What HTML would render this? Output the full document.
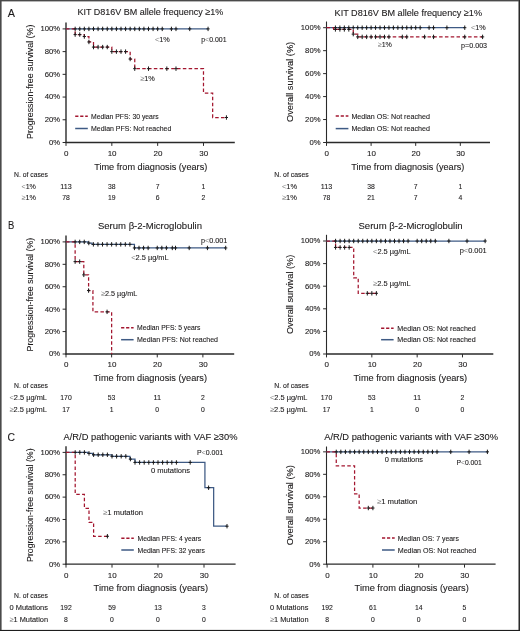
<!DOCTYPE html>
<html><head><meta charset="utf-8"><title>Kaplan-Meier curves</title>
<style>
html,body{margin:0;padding:0;background:#fff;}
body{width:520px;height:631px;overflow:hidden;position:relative;}
#fig{position:absolute;left:0;top:0;width:520px;height:631px;will-change:transform;}
text{font-family:"Liberation Sans",sans-serif;stroke:#1c1a1b;stroke-width:0.1px;}
</style></head>
<body>
<svg id="fig" width="520" height="631" viewBox="0 0 520 631">
<rect x="0" y="0" width="520" height="631" fill="#fff"/>
<text x="7.8" y="16.8" font-size="11.5" text-anchor="start" fill="#1c1a1b" textLength="7.2" lengthAdjust="spacingAndGlyphs">A</text>
<text x="8" y="228.8" font-size="11.5" text-anchor="start" fill="#1c1a1b" textLength="6.3" lengthAdjust="spacingAndGlyphs">B</text>
<text x="7.5" y="440.5" font-size="11.5" text-anchor="start" fill="#1c1a1b" textLength="7.5" lengthAdjust="spacingAndGlyphs">C</text>
<text x="77.4" y="15.4" font-size="9.6" text-anchor="start" fill="#1c1a1b" textLength="145.9" lengthAdjust="spacingAndGlyphs">KIT D816V BM allele frequency ≥1%</text>
<text x="334.6" y="15.5" font-size="9.6" text-anchor="start" fill="#1c1a1b" textLength="147.4" lengthAdjust="spacingAndGlyphs">KIT D816V BM allele frequency ≥1%</text>
<text x="97.9" y="228.6" font-size="9.6" text-anchor="start" fill="#1c1a1b" textLength="104.1" lengthAdjust="spacingAndGlyphs">Serum β-2-Microglobulin</text>
<text x="358.5" y="228.6" font-size="9.6" text-anchor="start" fill="#1c1a1b" textLength="104.1" lengthAdjust="spacingAndGlyphs">Serum β-2-Microglobulin</text>
<text x="63.5" y="439.8" font-size="9.6" text-anchor="start" fill="#1c1a1b" textLength="174" lengthAdjust="spacingAndGlyphs">A/R/D pathogenic variants with VAF ≥30%</text>
<text x="324.2" y="439.8" font-size="9.6" text-anchor="start" fill="#1c1a1b" textLength="173.8" lengthAdjust="spacingAndGlyphs">A/R/D pathogenic variants with VAF ≥30%</text>
<line x1="66" y1="22.6" x2="66" y2="143" stroke="#2a2a2a" stroke-width="1.4" stroke-linecap="butt"/>
<line x1="65.5" y1="142.5" x2="234.8" y2="142.5" stroke="#2a2a2a" stroke-width="1.3" stroke-linecap="butt"/>
<line x1="62.6" y1="142.5" x2="66" y2="142.5" stroke="#2a2a2a" stroke-width="1" stroke-linecap="butt"/>
<text x="60.1" y="144.85" font-size="7.7" text-anchor="end" fill="#1c1a1b">0%</text>
<line x1="62.6" y1="119.78" x2="66" y2="119.78" stroke="#2a2a2a" stroke-width="1" stroke-linecap="butt"/>
<text x="60.1" y="122.13" font-size="7.7" text-anchor="end" fill="#1c1a1b">20%</text>
<line x1="62.6" y1="97.06" x2="66" y2="97.06" stroke="#2a2a2a" stroke-width="1" stroke-linecap="butt"/>
<text x="60.1" y="99.41" font-size="7.7" text-anchor="end" fill="#1c1a1b">40%</text>
<line x1="62.6" y1="74.34" x2="66" y2="74.34" stroke="#2a2a2a" stroke-width="1" stroke-linecap="butt"/>
<text x="60.1" y="76.69" font-size="7.7" text-anchor="end" fill="#1c1a1b">60%</text>
<line x1="62.6" y1="51.62" x2="66" y2="51.62" stroke="#2a2a2a" stroke-width="1" stroke-linecap="butt"/>
<text x="60.1" y="53.97" font-size="7.7" text-anchor="end" fill="#1c1a1b">80%</text>
<line x1="62.6" y1="28.9" x2="66" y2="28.9" stroke="#2a2a2a" stroke-width="1" stroke-linecap="butt"/>
<text x="60.1" y="31.25" font-size="7.7" text-anchor="end" fill="#1c1a1b">100%</text>
<line x1="66" y1="142.5" x2="66" y2="145.9" stroke="#2a2a2a" stroke-width="1" stroke-linecap="butt"/>
<text x="66.3" y="155.8" font-size="8" text-anchor="middle" fill="#1c1a1b">0</text>
<line x1="111.83" y1="142.5" x2="111.83" y2="145.9" stroke="#2a2a2a" stroke-width="1" stroke-linecap="butt"/>
<text x="112.13" y="155.8" font-size="8" text-anchor="middle" fill="#1c1a1b">10</text>
<line x1="157.66" y1="142.5" x2="157.66" y2="145.9" stroke="#2a2a2a" stroke-width="1" stroke-linecap="butt"/>
<text x="157.96" y="155.8" font-size="8" text-anchor="middle" fill="#1c1a1b">20</text>
<line x1="203.49" y1="142.5" x2="203.49" y2="145.9" stroke="#2a2a2a" stroke-width="1" stroke-linecap="butt"/>
<text x="203.79" y="155.8" font-size="8" text-anchor="middle" fill="#1c1a1b">30</text>
<text x="94.2" y="170" font-size="9.3" text-anchor="start" fill="#1c1a1b" textLength="113.1" lengthAdjust="spacingAndGlyphs">Time from diagnosis (years)</text>
<text x="33.1" y="81.8" font-size="9.3" text-anchor="middle" fill="#1c1a1b" textLength="114.4" lengthAdjust="spacingAndGlyphs" transform="rotate(-90 33.1 81.8)">Progression-free survival (%)</text>
<line x1="326.5" y1="21.5" x2="326.5" y2="143" stroke="#2a2a2a" stroke-width="1.1" stroke-linecap="butt"/>
<line x1="326" y1="142.5" x2="490" y2="142.5" stroke="#2a2a2a" stroke-width="1.3" stroke-linecap="butt"/>
<line x1="323.1" y1="142.5" x2="326.5" y2="142.5" stroke="#2a2a2a" stroke-width="1" stroke-linecap="butt"/>
<text x="320.5" y="144.85" font-size="7.7" text-anchor="end" fill="#1c1a1b">0%</text>
<line x1="323.1" y1="119.54" x2="326.5" y2="119.54" stroke="#2a2a2a" stroke-width="1" stroke-linecap="butt"/>
<text x="320.5" y="121.89" font-size="7.7" text-anchor="end" fill="#1c1a1b">20%</text>
<line x1="323.1" y1="96.58" x2="326.5" y2="96.58" stroke="#2a2a2a" stroke-width="1" stroke-linecap="butt"/>
<text x="320.5" y="98.93" font-size="7.7" text-anchor="end" fill="#1c1a1b">40%</text>
<line x1="323.1" y1="73.62" x2="326.5" y2="73.62" stroke="#2a2a2a" stroke-width="1" stroke-linecap="butt"/>
<text x="320.5" y="75.97" font-size="7.7" text-anchor="end" fill="#1c1a1b">60%</text>
<line x1="323.1" y1="50.66" x2="326.5" y2="50.66" stroke="#2a2a2a" stroke-width="1" stroke-linecap="butt"/>
<text x="320.5" y="53.01" font-size="7.7" text-anchor="end" fill="#1c1a1b">80%</text>
<line x1="323.1" y1="27.7" x2="326.5" y2="27.7" stroke="#2a2a2a" stroke-width="1" stroke-linecap="butt"/>
<text x="320.5" y="30.05" font-size="7.7" text-anchor="end" fill="#1c1a1b">100%</text>
<line x1="326.5" y1="142.5" x2="326.5" y2="145.9" stroke="#2a2a2a" stroke-width="1" stroke-linecap="butt"/>
<text x="326.8" y="155.8" font-size="8" text-anchor="middle" fill="#1c1a1b">0</text>
<line x1="371.1" y1="142.5" x2="371.1" y2="145.9" stroke="#2a2a2a" stroke-width="1" stroke-linecap="butt"/>
<text x="371.4" y="155.8" font-size="8" text-anchor="middle" fill="#1c1a1b">10</text>
<line x1="415.7" y1="142.5" x2="415.7" y2="145.9" stroke="#2a2a2a" stroke-width="1" stroke-linecap="butt"/>
<text x="416" y="155.8" font-size="8" text-anchor="middle" fill="#1c1a1b">20</text>
<line x1="460.3" y1="142.5" x2="460.3" y2="145.9" stroke="#2a2a2a" stroke-width="1" stroke-linecap="butt"/>
<text x="460.6" y="155.8" font-size="8" text-anchor="middle" fill="#1c1a1b">30</text>
<text x="351.3" y="170" font-size="9.3" text-anchor="start" fill="#1c1a1b" textLength="113.1" lengthAdjust="spacingAndGlyphs">Time from diagnosis (years)</text>
<text x="293.5" y="81.9" font-size="9.3" text-anchor="middle" fill="#1c1a1b" textLength="80.2" lengthAdjust="spacingAndGlyphs" transform="rotate(-90 293.5 81.9)">Overall survival (%)</text>
<line x1="66" y1="235.5" x2="66" y2="354.5" stroke="#2a2a2a" stroke-width="1.4" stroke-linecap="butt"/>
<line x1="65.5" y1="354" x2="234.2" y2="354" stroke="#2a2a2a" stroke-width="1.4" stroke-linecap="butt"/>
<line x1="62.6" y1="354" x2="66" y2="354" stroke="#2a2a2a" stroke-width="1" stroke-linecap="butt"/>
<text x="60.1" y="356.35" font-size="7.7" text-anchor="end" fill="#1c1a1b">0%</text>
<line x1="62.6" y1="331.58" x2="66" y2="331.58" stroke="#2a2a2a" stroke-width="1" stroke-linecap="butt"/>
<text x="60.1" y="333.93" font-size="7.7" text-anchor="end" fill="#1c1a1b">20%</text>
<line x1="62.6" y1="309.16" x2="66" y2="309.16" stroke="#2a2a2a" stroke-width="1" stroke-linecap="butt"/>
<text x="60.1" y="311.51" font-size="7.7" text-anchor="end" fill="#1c1a1b">40%</text>
<line x1="62.6" y1="286.74" x2="66" y2="286.74" stroke="#2a2a2a" stroke-width="1" stroke-linecap="butt"/>
<text x="60.1" y="289.09" font-size="7.7" text-anchor="end" fill="#1c1a1b">60%</text>
<line x1="62.6" y1="264.32" x2="66" y2="264.32" stroke="#2a2a2a" stroke-width="1" stroke-linecap="butt"/>
<text x="60.1" y="266.67" font-size="7.7" text-anchor="end" fill="#1c1a1b">80%</text>
<line x1="62.6" y1="241.9" x2="66" y2="241.9" stroke="#2a2a2a" stroke-width="1" stroke-linecap="butt"/>
<text x="60.1" y="244.25" font-size="7.7" text-anchor="end" fill="#1c1a1b">100%</text>
<line x1="66" y1="354" x2="66" y2="357.4" stroke="#2a2a2a" stroke-width="1" stroke-linecap="butt"/>
<text x="66.3" y="367.3" font-size="8" text-anchor="middle" fill="#1c1a1b">0</text>
<line x1="111.63" y1="354" x2="111.63" y2="357.4" stroke="#2a2a2a" stroke-width="1" stroke-linecap="butt"/>
<text x="111.93" y="367.3" font-size="8" text-anchor="middle" fill="#1c1a1b">10</text>
<line x1="157.26" y1="354" x2="157.26" y2="357.4" stroke="#2a2a2a" stroke-width="1" stroke-linecap="butt"/>
<text x="157.56" y="367.3" font-size="8" text-anchor="middle" fill="#1c1a1b">20</text>
<line x1="202.89" y1="354" x2="202.89" y2="357.4" stroke="#2a2a2a" stroke-width="1" stroke-linecap="butt"/>
<text x="203.19" y="367.3" font-size="8" text-anchor="middle" fill="#1c1a1b">30</text>
<text x="93.6" y="381" font-size="9.3" text-anchor="start" fill="#1c1a1b" textLength="113.4" lengthAdjust="spacingAndGlyphs">Time from diagnosis (years)</text>
<text x="33.1" y="294.65" font-size="9.3" text-anchor="middle" fill="#1c1a1b" textLength="113.7" lengthAdjust="spacingAndGlyphs" transform="rotate(-90 33.1 294.65)">Progression-free survival (%)</text>
<line x1="326.5" y1="234.8" x2="326.5" y2="354.5" stroke="#2a2a2a" stroke-width="1.1" stroke-linecap="butt"/>
<line x1="326" y1="354" x2="493.3" y2="354" stroke="#2a2a2a" stroke-width="1.4" stroke-linecap="butt"/>
<line x1="323.1" y1="354" x2="326.5" y2="354" stroke="#2a2a2a" stroke-width="1" stroke-linecap="butt"/>
<text x="320.3" y="356.35" font-size="7.7" text-anchor="end" fill="#1c1a1b">0%</text>
<line x1="323.1" y1="331.4" x2="326.5" y2="331.4" stroke="#2a2a2a" stroke-width="1" stroke-linecap="butt"/>
<text x="320.3" y="333.75" font-size="7.7" text-anchor="end" fill="#1c1a1b">20%</text>
<line x1="323.1" y1="308.8" x2="326.5" y2="308.8" stroke="#2a2a2a" stroke-width="1" stroke-linecap="butt"/>
<text x="320.3" y="311.15" font-size="7.7" text-anchor="end" fill="#1c1a1b">40%</text>
<line x1="323.1" y1="286.2" x2="326.5" y2="286.2" stroke="#2a2a2a" stroke-width="1" stroke-linecap="butt"/>
<text x="320.3" y="288.55" font-size="7.7" text-anchor="end" fill="#1c1a1b">60%</text>
<line x1="323.1" y1="263.6" x2="326.5" y2="263.6" stroke="#2a2a2a" stroke-width="1" stroke-linecap="butt"/>
<text x="320.3" y="265.95" font-size="7.7" text-anchor="end" fill="#1c1a1b">80%</text>
<line x1="323.1" y1="241" x2="326.5" y2="241" stroke="#2a2a2a" stroke-width="1" stroke-linecap="butt"/>
<text x="320.3" y="243.35" font-size="7.7" text-anchor="end" fill="#1c1a1b">100%</text>
<line x1="326.5" y1="354" x2="326.5" y2="357.4" stroke="#2a2a2a" stroke-width="1" stroke-linecap="butt"/>
<text x="326.8" y="367.3" font-size="8" text-anchor="middle" fill="#1c1a1b">0</text>
<line x1="371.83" y1="354" x2="371.83" y2="357.4" stroke="#2a2a2a" stroke-width="1" stroke-linecap="butt"/>
<text x="372.13" y="367.3" font-size="8" text-anchor="middle" fill="#1c1a1b">10</text>
<line x1="417.16" y1="354" x2="417.16" y2="357.4" stroke="#2a2a2a" stroke-width="1" stroke-linecap="butt"/>
<text x="417.46" y="367.3" font-size="8" text-anchor="middle" fill="#1c1a1b">20</text>
<line x1="462.49" y1="354" x2="462.49" y2="357.4" stroke="#2a2a2a" stroke-width="1" stroke-linecap="butt"/>
<text x="462.79" y="367.3" font-size="8" text-anchor="middle" fill="#1c1a1b">30</text>
<text x="353.6" y="381" font-size="9.3" text-anchor="start" fill="#1c1a1b" textLength="113.5" lengthAdjust="spacingAndGlyphs">Time from diagnosis (years)</text>
<text x="293.5" y="294.4" font-size="9.3" text-anchor="middle" fill="#1c1a1b" textLength="79.4" lengthAdjust="spacingAndGlyphs" transform="rotate(-90 293.5 294.4)">Overall survival (%)</text>
<line x1="66" y1="446.3" x2="66" y2="564.7" stroke="#2a2a2a" stroke-width="1.4" stroke-linecap="butt"/>
<line x1="65.5" y1="564.2" x2="235.6" y2="564.2" stroke="#2a2a2a" stroke-width="1.3" stroke-linecap="butt"/>
<line x1="62.6" y1="564.2" x2="66" y2="564.2" stroke="#2a2a2a" stroke-width="1" stroke-linecap="butt"/>
<text x="60.1" y="566.55" font-size="7.7" text-anchor="end" fill="#1c1a1b">0%</text>
<line x1="62.6" y1="541.84" x2="66" y2="541.84" stroke="#2a2a2a" stroke-width="1" stroke-linecap="butt"/>
<text x="60.1" y="544.19" font-size="7.7" text-anchor="end" fill="#1c1a1b">20%</text>
<line x1="62.6" y1="519.48" x2="66" y2="519.48" stroke="#2a2a2a" stroke-width="1" stroke-linecap="butt"/>
<text x="60.1" y="521.83" font-size="7.7" text-anchor="end" fill="#1c1a1b">40%</text>
<line x1="62.6" y1="497.12" x2="66" y2="497.12" stroke="#2a2a2a" stroke-width="1" stroke-linecap="butt"/>
<text x="60.1" y="499.47" font-size="7.7" text-anchor="end" fill="#1c1a1b">60%</text>
<line x1="62.6" y1="474.76" x2="66" y2="474.76" stroke="#2a2a2a" stroke-width="1" stroke-linecap="butt"/>
<text x="60.1" y="477.11" font-size="7.7" text-anchor="end" fill="#1c1a1b">80%</text>
<line x1="62.6" y1="452.4" x2="66" y2="452.4" stroke="#2a2a2a" stroke-width="1" stroke-linecap="butt"/>
<text x="60.1" y="454.75" font-size="7.7" text-anchor="end" fill="#1c1a1b">100%</text>
<line x1="66" y1="564.2" x2="66" y2="567.6" stroke="#2a2a2a" stroke-width="1" stroke-linecap="butt"/>
<text x="66.3" y="577.5" font-size="8" text-anchor="middle" fill="#1c1a1b">0</text>
<line x1="112" y1="564.2" x2="112" y2="567.6" stroke="#2a2a2a" stroke-width="1" stroke-linecap="butt"/>
<text x="112.3" y="577.5" font-size="8" text-anchor="middle" fill="#1c1a1b">10</text>
<line x1="158" y1="564.2" x2="158" y2="567.6" stroke="#2a2a2a" stroke-width="1" stroke-linecap="butt"/>
<text x="158.3" y="577.5" font-size="8" text-anchor="middle" fill="#1c1a1b">20</text>
<line x1="204" y1="564.2" x2="204" y2="567.6" stroke="#2a2a2a" stroke-width="1" stroke-linecap="butt"/>
<text x="204.3" y="577.5" font-size="8" text-anchor="middle" fill="#1c1a1b">30</text>
<text x="93.6" y="591" font-size="9.3" text-anchor="start" fill="#1c1a1b" textLength="114.5" lengthAdjust="spacingAndGlyphs">Time from diagnosis (years)</text>
<text x="33.1" y="505.2" font-size="9.3" text-anchor="middle" fill="#1c1a1b" textLength="113.6" lengthAdjust="spacingAndGlyphs" transform="rotate(-90 33.1 505.2)">Progression-free survival (%)</text>
<line x1="326.5" y1="446.5" x2="326.5" y2="564.7" stroke="#2a2a2a" stroke-width="1.1" stroke-linecap="butt"/>
<line x1="326" y1="564.2" x2="495.6" y2="564.2" stroke="#2a2a2a" stroke-width="1.3" stroke-linecap="butt"/>
<line x1="323.1" y1="564.2" x2="326.5" y2="564.2" stroke="#2a2a2a" stroke-width="1" stroke-linecap="butt"/>
<text x="320.3" y="566.55" font-size="7.7" text-anchor="end" fill="#1c1a1b">0%</text>
<line x1="323.1" y1="541.73" x2="326.5" y2="541.73" stroke="#2a2a2a" stroke-width="1" stroke-linecap="butt"/>
<text x="320.3" y="544.08" font-size="7.7" text-anchor="end" fill="#1c1a1b">20%</text>
<line x1="323.1" y1="519.26" x2="326.5" y2="519.26" stroke="#2a2a2a" stroke-width="1" stroke-linecap="butt"/>
<text x="320.3" y="521.61" font-size="7.7" text-anchor="end" fill="#1c1a1b">40%</text>
<line x1="323.1" y1="496.79" x2="326.5" y2="496.79" stroke="#2a2a2a" stroke-width="1" stroke-linecap="butt"/>
<text x="320.3" y="499.14" font-size="7.7" text-anchor="end" fill="#1c1a1b">60%</text>
<line x1="323.1" y1="474.32" x2="326.5" y2="474.32" stroke="#2a2a2a" stroke-width="1" stroke-linecap="butt"/>
<text x="320.3" y="476.67" font-size="7.7" text-anchor="end" fill="#1c1a1b">80%</text>
<line x1="323.1" y1="451.85" x2="326.5" y2="451.85" stroke="#2a2a2a" stroke-width="1" stroke-linecap="butt"/>
<text x="320.3" y="454.2" font-size="7.7" text-anchor="end" fill="#1c1a1b">100%</text>
<line x1="327.1" y1="564.2" x2="327.1" y2="567.6" stroke="#2a2a2a" stroke-width="1" stroke-linecap="butt"/>
<text x="327.4" y="577.5" font-size="8" text-anchor="middle" fill="#1c1a1b">0</text>
<line x1="372.9" y1="564.2" x2="372.9" y2="567.6" stroke="#2a2a2a" stroke-width="1" stroke-linecap="butt"/>
<text x="373.2" y="577.5" font-size="8" text-anchor="middle" fill="#1c1a1b">10</text>
<line x1="418.7" y1="564.2" x2="418.7" y2="567.6" stroke="#2a2a2a" stroke-width="1" stroke-linecap="butt"/>
<text x="419" y="577.5" font-size="8" text-anchor="middle" fill="#1c1a1b">20</text>
<line x1="464.5" y1="564.2" x2="464.5" y2="567.6" stroke="#2a2a2a" stroke-width="1" stroke-linecap="butt"/>
<text x="464.8" y="577.5" font-size="8" text-anchor="middle" fill="#1c1a1b">30</text>
<text x="354.6" y="591" font-size="9.3" text-anchor="start" fill="#1c1a1b" textLength="114.2" lengthAdjust="spacingAndGlyphs">Time from diagnosis (years)</text>
<text x="293.5" y="505.2" font-size="9.3" text-anchor="middle" fill="#1c1a1b" textLength="80" lengthAdjust="spacingAndGlyphs" transform="rotate(-90 293.5 505.2)">Overall survival (%)</text>
<path d="M66 28.9 H208.07" fill="none" stroke="#3e5a84" stroke-width="1.25"/>
<path d="M66 28.9 H75.17 V34.58 H84.33 V36.51 H88.91 V41.96 H93.5 V47.08 H111.83 V51.62 H130.16 V59 H134.75 V68.66 H203.49 V93.08 H212.66 V117.51 H226.41" fill="none" stroke="#a3162f" stroke-width="1.25" stroke-dasharray="3.5 2.3"/>
<line x1="75.17" y1="26.7" x2="75.17" y2="31.1" stroke="#1a1a1a" stroke-width="1" stroke-linecap="butt"/>
<line x1="73.57" y1="28.9" x2="76.77" y2="28.9" stroke="#1a1a1a" stroke-width="1" stroke-linecap="butt"/>
<line x1="79.75" y1="26.7" x2="79.75" y2="31.1" stroke="#1a1a1a" stroke-width="1" stroke-linecap="butt"/>
<line x1="78.15" y1="28.9" x2="81.35" y2="28.9" stroke="#1a1a1a" stroke-width="1" stroke-linecap="butt"/>
<line x1="84.33" y1="26.7" x2="84.33" y2="31.1" stroke="#1a1a1a" stroke-width="1" stroke-linecap="butt"/>
<line x1="82.73" y1="28.9" x2="85.93" y2="28.9" stroke="#1a1a1a" stroke-width="1" stroke-linecap="butt"/>
<line x1="88.91" y1="26.7" x2="88.91" y2="31.1" stroke="#1a1a1a" stroke-width="1" stroke-linecap="butt"/>
<line x1="87.31" y1="28.9" x2="90.51" y2="28.9" stroke="#1a1a1a" stroke-width="1" stroke-linecap="butt"/>
<line x1="93.5" y1="26.7" x2="93.5" y2="31.1" stroke="#1a1a1a" stroke-width="1" stroke-linecap="butt"/>
<line x1="91.9" y1="28.9" x2="95.1" y2="28.9" stroke="#1a1a1a" stroke-width="1" stroke-linecap="butt"/>
<line x1="98.08" y1="26.7" x2="98.08" y2="31.1" stroke="#1a1a1a" stroke-width="1" stroke-linecap="butt"/>
<line x1="96.48" y1="28.9" x2="99.68" y2="28.9" stroke="#1a1a1a" stroke-width="1" stroke-linecap="butt"/>
<line x1="102.66" y1="26.7" x2="102.66" y2="31.1" stroke="#1a1a1a" stroke-width="1" stroke-linecap="butt"/>
<line x1="101.06" y1="28.9" x2="104.26" y2="28.9" stroke="#1a1a1a" stroke-width="1" stroke-linecap="butt"/>
<line x1="107.25" y1="26.7" x2="107.25" y2="31.1" stroke="#1a1a1a" stroke-width="1" stroke-linecap="butt"/>
<line x1="105.65" y1="28.9" x2="108.85" y2="28.9" stroke="#1a1a1a" stroke-width="1" stroke-linecap="butt"/>
<line x1="111.83" y1="26.7" x2="111.83" y2="31.1" stroke="#1a1a1a" stroke-width="1" stroke-linecap="butt"/>
<line x1="110.23" y1="28.9" x2="113.43" y2="28.9" stroke="#1a1a1a" stroke-width="1" stroke-linecap="butt"/>
<line x1="116.41" y1="26.7" x2="116.41" y2="31.1" stroke="#1a1a1a" stroke-width="1" stroke-linecap="butt"/>
<line x1="114.81" y1="28.9" x2="118.01" y2="28.9" stroke="#1a1a1a" stroke-width="1" stroke-linecap="butt"/>
<line x1="121" y1="26.7" x2="121" y2="31.1" stroke="#1a1a1a" stroke-width="1" stroke-linecap="butt"/>
<line x1="119.4" y1="28.9" x2="122.6" y2="28.9" stroke="#1a1a1a" stroke-width="1" stroke-linecap="butt"/>
<line x1="125.58" y1="26.7" x2="125.58" y2="31.1" stroke="#1a1a1a" stroke-width="1" stroke-linecap="butt"/>
<line x1="123.98" y1="28.9" x2="127.18" y2="28.9" stroke="#1a1a1a" stroke-width="1" stroke-linecap="butt"/>
<line x1="130.16" y1="26.7" x2="130.16" y2="31.1" stroke="#1a1a1a" stroke-width="1" stroke-linecap="butt"/>
<line x1="128.56" y1="28.9" x2="131.76" y2="28.9" stroke="#1a1a1a" stroke-width="1" stroke-linecap="butt"/>
<line x1="134.75" y1="26.7" x2="134.75" y2="31.1" stroke="#1a1a1a" stroke-width="1" stroke-linecap="butt"/>
<line x1="133.15" y1="28.9" x2="136.34" y2="28.9" stroke="#1a1a1a" stroke-width="1" stroke-linecap="butt"/>
<line x1="139.33" y1="26.7" x2="139.33" y2="31.1" stroke="#1a1a1a" stroke-width="1" stroke-linecap="butt"/>
<line x1="137.73" y1="28.9" x2="140.93" y2="28.9" stroke="#1a1a1a" stroke-width="1" stroke-linecap="butt"/>
<line x1="143.91" y1="26.7" x2="143.91" y2="31.1" stroke="#1a1a1a" stroke-width="1" stroke-linecap="butt"/>
<line x1="142.31" y1="28.9" x2="145.51" y2="28.9" stroke="#1a1a1a" stroke-width="1" stroke-linecap="butt"/>
<line x1="148.49" y1="26.7" x2="148.49" y2="31.1" stroke="#1a1a1a" stroke-width="1" stroke-linecap="butt"/>
<line x1="146.89" y1="28.9" x2="150.09" y2="28.9" stroke="#1a1a1a" stroke-width="1" stroke-linecap="butt"/>
<line x1="153.08" y1="26.7" x2="153.08" y2="31.1" stroke="#1a1a1a" stroke-width="1" stroke-linecap="butt"/>
<line x1="151.48" y1="28.9" x2="154.68" y2="28.9" stroke="#1a1a1a" stroke-width="1" stroke-linecap="butt"/>
<line x1="157.66" y1="26.7" x2="157.66" y2="31.1" stroke="#1a1a1a" stroke-width="1" stroke-linecap="butt"/>
<line x1="156.06" y1="28.9" x2="159.26" y2="28.9" stroke="#1a1a1a" stroke-width="1" stroke-linecap="butt"/>
<line x1="162.24" y1="26.7" x2="162.24" y2="31.1" stroke="#1a1a1a" stroke-width="1" stroke-linecap="butt"/>
<line x1="160.64" y1="28.9" x2="163.84" y2="28.9" stroke="#1a1a1a" stroke-width="1" stroke-linecap="butt"/>
<line x1="171.41" y1="26.7" x2="171.41" y2="31.1" stroke="#1a1a1a" stroke-width="1" stroke-linecap="butt"/>
<line x1="169.81" y1="28.9" x2="173.01" y2="28.9" stroke="#1a1a1a" stroke-width="1" stroke-linecap="butt"/>
<line x1="175.99" y1="26.7" x2="175.99" y2="31.1" stroke="#1a1a1a" stroke-width="1" stroke-linecap="butt"/>
<line x1="174.39" y1="28.9" x2="177.59" y2="28.9" stroke="#1a1a1a" stroke-width="1" stroke-linecap="butt"/>
<line x1="189.74" y1="26.7" x2="189.74" y2="31.1" stroke="#1a1a1a" stroke-width="1" stroke-linecap="butt"/>
<line x1="188.14" y1="28.9" x2="191.34" y2="28.9" stroke="#1a1a1a" stroke-width="1" stroke-linecap="butt"/>
<line x1="208.07" y1="26.7" x2="208.07" y2="31.1" stroke="#1a1a1a" stroke-width="1" stroke-linecap="butt"/>
<line x1="206.47" y1="28.9" x2="209.67" y2="28.9" stroke="#1a1a1a" stroke-width="1" stroke-linecap="butt"/>
<line x1="75.17" y1="32.38" x2="75.17" y2="36.78" stroke="#1a1a1a" stroke-width="1" stroke-linecap="butt"/>
<line x1="73.57" y1="34.58" x2="76.77" y2="34.58" stroke="#1a1a1a" stroke-width="1" stroke-linecap="butt"/>
<line x1="79.75" y1="32.38" x2="79.75" y2="36.78" stroke="#1a1a1a" stroke-width="1" stroke-linecap="butt"/>
<line x1="78.15" y1="34.58" x2="81.35" y2="34.58" stroke="#1a1a1a" stroke-width="1" stroke-linecap="butt"/>
<line x1="84.33" y1="34.31" x2="84.33" y2="38.71" stroke="#1a1a1a" stroke-width="1" stroke-linecap="butt"/>
<line x1="82.73" y1="36.51" x2="85.93" y2="36.51" stroke="#1a1a1a" stroke-width="1" stroke-linecap="butt"/>
<line x1="88.91" y1="39.76" x2="88.91" y2="44.16" stroke="#1a1a1a" stroke-width="1" stroke-linecap="butt"/>
<line x1="87.31" y1="41.96" x2="90.51" y2="41.96" stroke="#1a1a1a" stroke-width="1" stroke-linecap="butt"/>
<line x1="93.5" y1="44.88" x2="93.5" y2="49.28" stroke="#1a1a1a" stroke-width="1" stroke-linecap="butt"/>
<line x1="91.9" y1="47.08" x2="95.1" y2="47.08" stroke="#1a1a1a" stroke-width="1" stroke-linecap="butt"/>
<line x1="98.08" y1="44.88" x2="98.08" y2="49.28" stroke="#1a1a1a" stroke-width="1" stroke-linecap="butt"/>
<line x1="96.48" y1="47.08" x2="99.68" y2="47.08" stroke="#1a1a1a" stroke-width="1" stroke-linecap="butt"/>
<line x1="102.66" y1="44.88" x2="102.66" y2="49.28" stroke="#1a1a1a" stroke-width="1" stroke-linecap="butt"/>
<line x1="101.06" y1="47.08" x2="104.26" y2="47.08" stroke="#1a1a1a" stroke-width="1" stroke-linecap="butt"/>
<line x1="107.25" y1="44.88" x2="107.25" y2="49.28" stroke="#1a1a1a" stroke-width="1" stroke-linecap="butt"/>
<line x1="105.65" y1="47.08" x2="108.85" y2="47.08" stroke="#1a1a1a" stroke-width="1" stroke-linecap="butt"/>
<line x1="111.83" y1="49.42" x2="111.83" y2="53.82" stroke="#1a1a1a" stroke-width="1" stroke-linecap="butt"/>
<line x1="110.23" y1="51.62" x2="113.43" y2="51.62" stroke="#1a1a1a" stroke-width="1" stroke-linecap="butt"/>
<line x1="116.41" y1="49.42" x2="116.41" y2="53.82" stroke="#1a1a1a" stroke-width="1" stroke-linecap="butt"/>
<line x1="114.81" y1="51.62" x2="118.01" y2="51.62" stroke="#1a1a1a" stroke-width="1" stroke-linecap="butt"/>
<line x1="121" y1="49.42" x2="121" y2="53.82" stroke="#1a1a1a" stroke-width="1" stroke-linecap="butt"/>
<line x1="119.4" y1="51.62" x2="122.6" y2="51.62" stroke="#1a1a1a" stroke-width="1" stroke-linecap="butt"/>
<line x1="125.58" y1="49.42" x2="125.58" y2="53.82" stroke="#1a1a1a" stroke-width="1" stroke-linecap="butt"/>
<line x1="123.98" y1="51.62" x2="127.18" y2="51.62" stroke="#1a1a1a" stroke-width="1" stroke-linecap="butt"/>
<line x1="130.16" y1="56.8" x2="130.16" y2="61.2" stroke="#1a1a1a" stroke-width="1" stroke-linecap="butt"/>
<line x1="128.56" y1="59" x2="131.76" y2="59" stroke="#1a1a1a" stroke-width="1" stroke-linecap="butt"/>
<line x1="134.75" y1="66.46" x2="134.75" y2="70.86" stroke="#1a1a1a" stroke-width="1" stroke-linecap="butt"/>
<line x1="133.15" y1="68.66" x2="136.34" y2="68.66" stroke="#1a1a1a" stroke-width="1" stroke-linecap="butt"/>
<line x1="148.49" y1="66.46" x2="148.49" y2="70.86" stroke="#1a1a1a" stroke-width="1" stroke-linecap="butt"/>
<line x1="146.89" y1="68.66" x2="150.09" y2="68.66" stroke="#1a1a1a" stroke-width="1" stroke-linecap="butt"/>
<line x1="166.83" y1="66.46" x2="166.83" y2="70.86" stroke="#1a1a1a" stroke-width="1" stroke-linecap="butt"/>
<line x1="165.23" y1="68.66" x2="168.43" y2="68.66" stroke="#1a1a1a" stroke-width="1" stroke-linecap="butt"/>
<line x1="175.99" y1="66.46" x2="175.99" y2="70.86" stroke="#1a1a1a" stroke-width="1" stroke-linecap="butt"/>
<line x1="174.39" y1="68.66" x2="177.59" y2="68.66" stroke="#1a1a1a" stroke-width="1" stroke-linecap="butt"/>
<line x1="226.41" y1="115.31" x2="226.41" y2="119.71" stroke="#1a1a1a" stroke-width="1" stroke-linecap="butt"/>
<line x1="224.81" y1="117.51" x2="228" y2="117.51" stroke="#1a1a1a" stroke-width="1" stroke-linecap="butt"/>
<text x="155" y="41.9" font-size="7.4" text-anchor="start" fill="#1c1a1b" textLength="14.8" lengthAdjust="spacingAndGlyphs"><tspan fill="#808080" stroke="none">&lt;</tspan>1%</text>
<text x="201.2" y="41.9" font-size="7.4" text-anchor="start" fill="#1c1a1b" textLength="25.3" lengthAdjust="spacingAndGlyphs">p<tspan fill="#808080" stroke="none">&lt;</tspan>0.001</text>
<text x="140.2" y="81" font-size="7.4" text-anchor="start" fill="#1c1a1b" textLength="14.6" lengthAdjust="spacingAndGlyphs"><tspan fill="#808080" stroke="none">≥</tspan>1%</text>
<line x1="75.2" y1="116.2" x2="87.8" y2="116.2" stroke="#a3162f" stroke-width="1.5" stroke-linecap="butt" stroke-dasharray="3.2 1.8"/>
<line x1="75.2" y1="128.5" x2="87.8" y2="128.5" stroke="#3e5a84" stroke-width="1.5" stroke-linecap="butt"/>
<text x="91" y="118.9" font-size="7.2" text-anchor="start" fill="#1c1a1b" textLength="67.6" lengthAdjust="spacingAndGlyphs">Median PFS: 30 years</text>
<text x="91" y="131.2" font-size="7.2" text-anchor="start" fill="#1c1a1b" textLength="80.3" lengthAdjust="spacingAndGlyphs">Median PFS: Not reached</text>
<text x="14.1" y="176.7" font-size="6.8" text-anchor="start" fill="#1c1a1b" textLength="33.9" lengthAdjust="spacingAndGlyphs">N. of cases</text>
<text x="21.5" y="189" font-size="7.4" text-anchor="start" fill="#1c1a1b" textLength="14.4" lengthAdjust="spacingAndGlyphs"><tspan fill="#808080" stroke="none">&lt;</tspan>1%</text>
<text x="66" y="189" font-size="7.4" text-anchor="middle" fill="#1c1a1b" textLength="11.4" lengthAdjust="spacingAndGlyphs">113</text>
<text x="111.83" y="189" font-size="7.4" text-anchor="middle" fill="#1c1a1b" textLength="7.6" lengthAdjust="spacingAndGlyphs">38</text>
<text x="157.66" y="189" font-size="7.4" text-anchor="middle" fill="#1c1a1b" textLength="3.8" lengthAdjust="spacingAndGlyphs">7</text>
<text x="203.49" y="189" font-size="7.4" text-anchor="middle" fill="#1c1a1b" textLength="3.8" lengthAdjust="spacingAndGlyphs">1</text>
<text x="21.5" y="200.3" font-size="7.4" text-anchor="start" fill="#1c1a1b" textLength="14.4" lengthAdjust="spacingAndGlyphs"><tspan fill="#808080" stroke="none">≥</tspan>1%</text>
<text x="66" y="200.3" font-size="7.4" text-anchor="middle" fill="#1c1a1b" textLength="7.6" lengthAdjust="spacingAndGlyphs">78</text>
<text x="111.83" y="200.3" font-size="7.4" text-anchor="middle" fill="#1c1a1b" textLength="7.6" lengthAdjust="spacingAndGlyphs">19</text>
<text x="157.66" y="200.3" font-size="7.4" text-anchor="middle" fill="#1c1a1b" textLength="3.8" lengthAdjust="spacingAndGlyphs">6</text>
<text x="203.49" y="200.3" font-size="7.4" text-anchor="middle" fill="#1c1a1b" textLength="3.8" lengthAdjust="spacingAndGlyphs">2</text>
<path d="M326.5 27.7 H464.76" fill="none" stroke="#3e5a84" stroke-width="1.25"/>
<path d="M326.5 27.7 H333.64 V29.42 H353.26 V34.13 H357.72 V36.88 H482.6" fill="none" stroke="#a3162f" stroke-width="1.25" stroke-dasharray="3.5 2.3"/>
<line x1="335.42" y1="25.5" x2="335.42" y2="29.9" stroke="#1a1a1a" stroke-width="1" stroke-linecap="butt"/>
<line x1="333.82" y1="27.7" x2="337.02" y2="27.7" stroke="#1a1a1a" stroke-width="1" stroke-linecap="butt"/>
<line x1="339.88" y1="25.5" x2="339.88" y2="29.9" stroke="#1a1a1a" stroke-width="1" stroke-linecap="butt"/>
<line x1="338.28" y1="27.7" x2="341.48" y2="27.7" stroke="#1a1a1a" stroke-width="1" stroke-linecap="butt"/>
<line x1="344.34" y1="25.5" x2="344.34" y2="29.9" stroke="#1a1a1a" stroke-width="1" stroke-linecap="butt"/>
<line x1="342.74" y1="27.7" x2="345.94" y2="27.7" stroke="#1a1a1a" stroke-width="1" stroke-linecap="butt"/>
<line x1="348.8" y1="25.5" x2="348.8" y2="29.9" stroke="#1a1a1a" stroke-width="1" stroke-linecap="butt"/>
<line x1="347.2" y1="27.7" x2="350.4" y2="27.7" stroke="#1a1a1a" stroke-width="1" stroke-linecap="butt"/>
<line x1="353.26" y1="25.5" x2="353.26" y2="29.9" stroke="#1a1a1a" stroke-width="1" stroke-linecap="butt"/>
<line x1="351.66" y1="27.7" x2="354.86" y2="27.7" stroke="#1a1a1a" stroke-width="1" stroke-linecap="butt"/>
<line x1="357.72" y1="25.5" x2="357.72" y2="29.9" stroke="#1a1a1a" stroke-width="1" stroke-linecap="butt"/>
<line x1="356.12" y1="27.7" x2="359.32" y2="27.7" stroke="#1a1a1a" stroke-width="1" stroke-linecap="butt"/>
<line x1="362.18" y1="25.5" x2="362.18" y2="29.9" stroke="#1a1a1a" stroke-width="1" stroke-linecap="butt"/>
<line x1="360.58" y1="27.7" x2="363.78" y2="27.7" stroke="#1a1a1a" stroke-width="1" stroke-linecap="butt"/>
<line x1="366.64" y1="25.5" x2="366.64" y2="29.9" stroke="#1a1a1a" stroke-width="1" stroke-linecap="butt"/>
<line x1="365.04" y1="27.7" x2="368.24" y2="27.7" stroke="#1a1a1a" stroke-width="1" stroke-linecap="butt"/>
<line x1="371.1" y1="25.5" x2="371.1" y2="29.9" stroke="#1a1a1a" stroke-width="1" stroke-linecap="butt"/>
<line x1="369.5" y1="27.7" x2="372.7" y2="27.7" stroke="#1a1a1a" stroke-width="1" stroke-linecap="butt"/>
<line x1="375.56" y1="25.5" x2="375.56" y2="29.9" stroke="#1a1a1a" stroke-width="1" stroke-linecap="butt"/>
<line x1="373.96" y1="27.7" x2="377.16" y2="27.7" stroke="#1a1a1a" stroke-width="1" stroke-linecap="butt"/>
<line x1="380.02" y1="25.5" x2="380.02" y2="29.9" stroke="#1a1a1a" stroke-width="1" stroke-linecap="butt"/>
<line x1="378.42" y1="27.7" x2="381.62" y2="27.7" stroke="#1a1a1a" stroke-width="1" stroke-linecap="butt"/>
<line x1="384.48" y1="25.5" x2="384.48" y2="29.9" stroke="#1a1a1a" stroke-width="1" stroke-linecap="butt"/>
<line x1="382.88" y1="27.7" x2="386.08" y2="27.7" stroke="#1a1a1a" stroke-width="1" stroke-linecap="butt"/>
<line x1="388.94" y1="25.5" x2="388.94" y2="29.9" stroke="#1a1a1a" stroke-width="1" stroke-linecap="butt"/>
<line x1="387.34" y1="27.7" x2="390.54" y2="27.7" stroke="#1a1a1a" stroke-width="1" stroke-linecap="butt"/>
<line x1="393.4" y1="25.5" x2="393.4" y2="29.9" stroke="#1a1a1a" stroke-width="1" stroke-linecap="butt"/>
<line x1="391.8" y1="27.7" x2="395" y2="27.7" stroke="#1a1a1a" stroke-width="1" stroke-linecap="butt"/>
<line x1="397.86" y1="25.5" x2="397.86" y2="29.9" stroke="#1a1a1a" stroke-width="1" stroke-linecap="butt"/>
<line x1="396.26" y1="27.7" x2="399.46" y2="27.7" stroke="#1a1a1a" stroke-width="1" stroke-linecap="butt"/>
<line x1="402.32" y1="25.5" x2="402.32" y2="29.9" stroke="#1a1a1a" stroke-width="1" stroke-linecap="butt"/>
<line x1="400.72" y1="27.7" x2="403.92" y2="27.7" stroke="#1a1a1a" stroke-width="1" stroke-linecap="butt"/>
<line x1="406.78" y1="25.5" x2="406.78" y2="29.9" stroke="#1a1a1a" stroke-width="1" stroke-linecap="butt"/>
<line x1="405.18" y1="27.7" x2="408.38" y2="27.7" stroke="#1a1a1a" stroke-width="1" stroke-linecap="butt"/>
<line x1="411.24" y1="25.5" x2="411.24" y2="29.9" stroke="#1a1a1a" stroke-width="1" stroke-linecap="butt"/>
<line x1="409.64" y1="27.7" x2="412.84" y2="27.7" stroke="#1a1a1a" stroke-width="1" stroke-linecap="butt"/>
<line x1="415.7" y1="25.5" x2="415.7" y2="29.9" stroke="#1a1a1a" stroke-width="1" stroke-linecap="butt"/>
<line x1="414.1" y1="27.7" x2="417.3" y2="27.7" stroke="#1a1a1a" stroke-width="1" stroke-linecap="butt"/>
<line x1="420.16" y1="25.5" x2="420.16" y2="29.9" stroke="#1a1a1a" stroke-width="1" stroke-linecap="butt"/>
<line x1="418.56" y1="27.7" x2="421.76" y2="27.7" stroke="#1a1a1a" stroke-width="1" stroke-linecap="butt"/>
<line x1="429.08" y1="25.5" x2="429.08" y2="29.9" stroke="#1a1a1a" stroke-width="1" stroke-linecap="butt"/>
<line x1="427.48" y1="27.7" x2="430.68" y2="27.7" stroke="#1a1a1a" stroke-width="1" stroke-linecap="butt"/>
<line x1="433.54" y1="25.5" x2="433.54" y2="29.9" stroke="#1a1a1a" stroke-width="1" stroke-linecap="butt"/>
<line x1="431.94" y1="27.7" x2="435.14" y2="27.7" stroke="#1a1a1a" stroke-width="1" stroke-linecap="butt"/>
<line x1="446.92" y1="25.5" x2="446.92" y2="29.9" stroke="#1a1a1a" stroke-width="1" stroke-linecap="butt"/>
<line x1="445.32" y1="27.7" x2="448.52" y2="27.7" stroke="#1a1a1a" stroke-width="1" stroke-linecap="butt"/>
<line x1="464.76" y1="25.5" x2="464.76" y2="29.9" stroke="#1a1a1a" stroke-width="1" stroke-linecap="butt"/>
<line x1="463.16" y1="27.7" x2="466.36" y2="27.7" stroke="#1a1a1a" stroke-width="1" stroke-linecap="butt"/>
<line x1="335.42" y1="27.22" x2="335.42" y2="31.62" stroke="#1a1a1a" stroke-width="1" stroke-linecap="butt"/>
<line x1="333.82" y1="29.42" x2="337.02" y2="29.42" stroke="#1a1a1a" stroke-width="1" stroke-linecap="butt"/>
<line x1="339.88" y1="27.22" x2="339.88" y2="31.62" stroke="#1a1a1a" stroke-width="1" stroke-linecap="butt"/>
<line x1="338.28" y1="29.42" x2="341.48" y2="29.42" stroke="#1a1a1a" stroke-width="1" stroke-linecap="butt"/>
<line x1="344.34" y1="27.22" x2="344.34" y2="31.62" stroke="#1a1a1a" stroke-width="1" stroke-linecap="butt"/>
<line x1="342.74" y1="29.42" x2="345.94" y2="29.42" stroke="#1a1a1a" stroke-width="1" stroke-linecap="butt"/>
<line x1="348.8" y1="27.22" x2="348.8" y2="31.62" stroke="#1a1a1a" stroke-width="1" stroke-linecap="butt"/>
<line x1="347.2" y1="29.42" x2="350.4" y2="29.42" stroke="#1a1a1a" stroke-width="1" stroke-linecap="butt"/>
<line x1="353.26" y1="31.93" x2="353.26" y2="36.33" stroke="#1a1a1a" stroke-width="1" stroke-linecap="butt"/>
<line x1="351.66" y1="34.13" x2="354.86" y2="34.13" stroke="#1a1a1a" stroke-width="1" stroke-linecap="butt"/>
<line x1="357.72" y1="34.68" x2="357.72" y2="39.08" stroke="#1a1a1a" stroke-width="1" stroke-linecap="butt"/>
<line x1="356.12" y1="36.88" x2="359.32" y2="36.88" stroke="#1a1a1a" stroke-width="1" stroke-linecap="butt"/>
<line x1="362.18" y1="34.68" x2="362.18" y2="39.08" stroke="#1a1a1a" stroke-width="1" stroke-linecap="butt"/>
<line x1="360.58" y1="36.88" x2="363.78" y2="36.88" stroke="#1a1a1a" stroke-width="1" stroke-linecap="butt"/>
<line x1="366.64" y1="34.68" x2="366.64" y2="39.08" stroke="#1a1a1a" stroke-width="1" stroke-linecap="butt"/>
<line x1="365.04" y1="36.88" x2="368.24" y2="36.88" stroke="#1a1a1a" stroke-width="1" stroke-linecap="butt"/>
<line x1="371.1" y1="34.68" x2="371.1" y2="39.08" stroke="#1a1a1a" stroke-width="1" stroke-linecap="butt"/>
<line x1="369.5" y1="36.88" x2="372.7" y2="36.88" stroke="#1a1a1a" stroke-width="1" stroke-linecap="butt"/>
<line x1="375.56" y1="34.68" x2="375.56" y2="39.08" stroke="#1a1a1a" stroke-width="1" stroke-linecap="butt"/>
<line x1="373.96" y1="36.88" x2="377.16" y2="36.88" stroke="#1a1a1a" stroke-width="1" stroke-linecap="butt"/>
<line x1="380.02" y1="34.68" x2="380.02" y2="39.08" stroke="#1a1a1a" stroke-width="1" stroke-linecap="butt"/>
<line x1="378.42" y1="36.88" x2="381.62" y2="36.88" stroke="#1a1a1a" stroke-width="1" stroke-linecap="butt"/>
<line x1="384.48" y1="34.68" x2="384.48" y2="39.08" stroke="#1a1a1a" stroke-width="1" stroke-linecap="butt"/>
<line x1="382.88" y1="36.88" x2="386.08" y2="36.88" stroke="#1a1a1a" stroke-width="1" stroke-linecap="butt"/>
<line x1="388.94" y1="34.68" x2="388.94" y2="39.08" stroke="#1a1a1a" stroke-width="1" stroke-linecap="butt"/>
<line x1="387.34" y1="36.88" x2="390.54" y2="36.88" stroke="#1a1a1a" stroke-width="1" stroke-linecap="butt"/>
<line x1="402.32" y1="34.68" x2="402.32" y2="39.08" stroke="#1a1a1a" stroke-width="1" stroke-linecap="butt"/>
<line x1="400.72" y1="36.88" x2="403.92" y2="36.88" stroke="#1a1a1a" stroke-width="1" stroke-linecap="butt"/>
<line x1="406.78" y1="34.68" x2="406.78" y2="39.08" stroke="#1a1a1a" stroke-width="1" stroke-linecap="butt"/>
<line x1="405.18" y1="36.88" x2="408.38" y2="36.88" stroke="#1a1a1a" stroke-width="1" stroke-linecap="butt"/>
<line x1="424.62" y1="34.68" x2="424.62" y2="39.08" stroke="#1a1a1a" stroke-width="1" stroke-linecap="butt"/>
<line x1="423.02" y1="36.88" x2="426.22" y2="36.88" stroke="#1a1a1a" stroke-width="1" stroke-linecap="butt"/>
<line x1="433.54" y1="34.68" x2="433.54" y2="39.08" stroke="#1a1a1a" stroke-width="1" stroke-linecap="butt"/>
<line x1="431.94" y1="36.88" x2="435.14" y2="36.88" stroke="#1a1a1a" stroke-width="1" stroke-linecap="butt"/>
<line x1="464.76" y1="34.68" x2="464.76" y2="39.08" stroke="#1a1a1a" stroke-width="1" stroke-linecap="butt"/>
<line x1="463.16" y1="36.88" x2="466.36" y2="36.88" stroke="#1a1a1a" stroke-width="1" stroke-linecap="butt"/>
<line x1="482.6" y1="34.68" x2="482.6" y2="39.08" stroke="#1a1a1a" stroke-width="1" stroke-linecap="butt"/>
<line x1="481" y1="36.88" x2="484.2" y2="36.88" stroke="#1a1a1a" stroke-width="1" stroke-linecap="butt"/>
<text x="471" y="29.8" font-size="7.4" text-anchor="start" fill="#1c1a1b" textLength="14.7" lengthAdjust="spacingAndGlyphs"><tspan fill="#808080" stroke="none">&lt;</tspan>1%</text>
<text x="461" y="48" font-size="7.4" text-anchor="start" fill="#1c1a1b" textLength="26.1" lengthAdjust="spacingAndGlyphs">p=0.003</text>
<text x="377.8" y="47.3" font-size="7.4" text-anchor="start" fill="#1c1a1b" textLength="14.1" lengthAdjust="spacingAndGlyphs"><tspan fill="#808080" stroke="none">≥</tspan>1%</text>
<line x1="335.7" y1="116.1" x2="348.4" y2="116.1" stroke="#a3162f" stroke-width="1.5" stroke-linecap="butt" stroke-dasharray="3.2 1.8"/>
<line x1="335.7" y1="128.6" x2="348.4" y2="128.6" stroke="#3e5a84" stroke-width="1.5" stroke-linecap="butt"/>
<text x="351.4" y="118.8" font-size="7.2" text-anchor="start" fill="#1c1a1b" textLength="78.5" lengthAdjust="spacingAndGlyphs">Median OS: Not reached</text>
<text x="351.4" y="131.3" font-size="7.2" text-anchor="start" fill="#1c1a1b" textLength="78.6" lengthAdjust="spacingAndGlyphs">Median OS: Not reached</text>
<text x="274.3" y="176.7" font-size="6.8" text-anchor="start" fill="#1c1a1b" textLength="34.4" lengthAdjust="spacingAndGlyphs">N. of cases</text>
<text x="282" y="189" font-size="7.4" text-anchor="start" fill="#1c1a1b" textLength="15" lengthAdjust="spacingAndGlyphs"><tspan fill="#808080" stroke="none">&lt;</tspan>1%</text>
<text x="326.5" y="189" font-size="7.4" text-anchor="middle" fill="#1c1a1b" textLength="11.4" lengthAdjust="spacingAndGlyphs">113</text>
<text x="371.1" y="189" font-size="7.4" text-anchor="middle" fill="#1c1a1b" textLength="7.6" lengthAdjust="spacingAndGlyphs">38</text>
<text x="415.7" y="189" font-size="7.4" text-anchor="middle" fill="#1c1a1b" textLength="3.8" lengthAdjust="spacingAndGlyphs">7</text>
<text x="460.3" y="189" font-size="7.4" text-anchor="middle" fill="#1c1a1b" textLength="3.8" lengthAdjust="spacingAndGlyphs">1</text>
<text x="282" y="200.3" font-size="7.4" text-anchor="start" fill="#1c1a1b" textLength="15" lengthAdjust="spacingAndGlyphs"><tspan fill="#808080" stroke="none">≥</tspan>1%</text>
<text x="326.5" y="200.3" font-size="7.4" text-anchor="middle" fill="#1c1a1b" textLength="7.6" lengthAdjust="spacingAndGlyphs">78</text>
<text x="371.1" y="200.3" font-size="7.4" text-anchor="middle" fill="#1c1a1b" textLength="7.6" lengthAdjust="spacingAndGlyphs">21</text>
<text x="415.7" y="200.3" font-size="7.4" text-anchor="middle" fill="#1c1a1b" textLength="3.8" lengthAdjust="spacingAndGlyphs">7</text>
<text x="460.3" y="200.3" font-size="7.4" text-anchor="middle" fill="#1c1a1b" textLength="3.8" lengthAdjust="spacingAndGlyphs">4</text>
<path d="M66 241.9 H88.13 V243.02 H92.01 V244.37 H134.44 V247.95 H225.7" fill="none" stroke="#3e5a84" stroke-width="1.25"/>
<path d="M66 241.9 H75.13 V261.63 H83.8 V274.86 H88.59 V290.55 H92.92 V311.85 H111.63 V354" fill="none" stroke="#a3162f" stroke-width="1.25" stroke-dasharray="3.5 2.3"/>
<line x1="75.13" y1="239.7" x2="75.13" y2="244.1" stroke="#1a1a1a" stroke-width="1" stroke-linecap="butt"/>
<line x1="73.53" y1="241.9" x2="76.73" y2="241.9" stroke="#1a1a1a" stroke-width="1" stroke-linecap="butt"/>
<line x1="79.69" y1="239.7" x2="79.69" y2="244.1" stroke="#1a1a1a" stroke-width="1" stroke-linecap="butt"/>
<line x1="78.09" y1="241.9" x2="81.29" y2="241.9" stroke="#1a1a1a" stroke-width="1" stroke-linecap="butt"/>
<line x1="84.25" y1="239.7" x2="84.25" y2="244.1" stroke="#1a1a1a" stroke-width="1" stroke-linecap="butt"/>
<line x1="82.65" y1="241.9" x2="85.85" y2="241.9" stroke="#1a1a1a" stroke-width="1" stroke-linecap="butt"/>
<line x1="88.81" y1="240.82" x2="88.81" y2="245.22" stroke="#1a1a1a" stroke-width="1" stroke-linecap="butt"/>
<line x1="87.22" y1="243.02" x2="90.41" y2="243.02" stroke="#1a1a1a" stroke-width="1" stroke-linecap="butt"/>
<line x1="93.38" y1="242.17" x2="93.38" y2="246.57" stroke="#1a1a1a" stroke-width="1" stroke-linecap="butt"/>
<line x1="91.78" y1="244.37" x2="94.98" y2="244.37" stroke="#1a1a1a" stroke-width="1" stroke-linecap="butt"/>
<line x1="97.94" y1="242.17" x2="97.94" y2="246.57" stroke="#1a1a1a" stroke-width="1" stroke-linecap="butt"/>
<line x1="96.34" y1="244.37" x2="99.54" y2="244.37" stroke="#1a1a1a" stroke-width="1" stroke-linecap="butt"/>
<line x1="102.5" y1="242.17" x2="102.5" y2="246.57" stroke="#1a1a1a" stroke-width="1" stroke-linecap="butt"/>
<line x1="100.9" y1="244.37" x2="104.1" y2="244.37" stroke="#1a1a1a" stroke-width="1" stroke-linecap="butt"/>
<line x1="107.07" y1="242.17" x2="107.07" y2="246.57" stroke="#1a1a1a" stroke-width="1" stroke-linecap="butt"/>
<line x1="105.47" y1="244.37" x2="108.67" y2="244.37" stroke="#1a1a1a" stroke-width="1" stroke-linecap="butt"/>
<line x1="111.63" y1="242.17" x2="111.63" y2="246.57" stroke="#1a1a1a" stroke-width="1" stroke-linecap="butt"/>
<line x1="110.03" y1="244.37" x2="113.23" y2="244.37" stroke="#1a1a1a" stroke-width="1" stroke-linecap="butt"/>
<line x1="116.19" y1="242.17" x2="116.19" y2="246.57" stroke="#1a1a1a" stroke-width="1" stroke-linecap="butt"/>
<line x1="114.59" y1="244.37" x2="117.79" y2="244.37" stroke="#1a1a1a" stroke-width="1" stroke-linecap="butt"/>
<line x1="120.76" y1="242.17" x2="120.76" y2="246.57" stroke="#1a1a1a" stroke-width="1" stroke-linecap="butt"/>
<line x1="119.16" y1="244.37" x2="122.36" y2="244.37" stroke="#1a1a1a" stroke-width="1" stroke-linecap="butt"/>
<line x1="125.32" y1="242.17" x2="125.32" y2="246.57" stroke="#1a1a1a" stroke-width="1" stroke-linecap="butt"/>
<line x1="123.72" y1="244.37" x2="126.92" y2="244.37" stroke="#1a1a1a" stroke-width="1" stroke-linecap="butt"/>
<line x1="129.88" y1="242.17" x2="129.88" y2="246.57" stroke="#1a1a1a" stroke-width="1" stroke-linecap="butt"/>
<line x1="128.28" y1="244.37" x2="131.48" y2="244.37" stroke="#1a1a1a" stroke-width="1" stroke-linecap="butt"/>
<line x1="134.44" y1="245.75" x2="134.44" y2="250.15" stroke="#1a1a1a" stroke-width="1" stroke-linecap="butt"/>
<line x1="132.84" y1="247.95" x2="136.04" y2="247.95" stroke="#1a1a1a" stroke-width="1" stroke-linecap="butt"/>
<line x1="139.01" y1="245.75" x2="139.01" y2="250.15" stroke="#1a1a1a" stroke-width="1" stroke-linecap="butt"/>
<line x1="137.41" y1="247.95" x2="140.61" y2="247.95" stroke="#1a1a1a" stroke-width="1" stroke-linecap="butt"/>
<line x1="143.57" y1="245.75" x2="143.57" y2="250.15" stroke="#1a1a1a" stroke-width="1" stroke-linecap="butt"/>
<line x1="141.97" y1="247.95" x2="145.17" y2="247.95" stroke="#1a1a1a" stroke-width="1" stroke-linecap="butt"/>
<line x1="148.13" y1="245.75" x2="148.13" y2="250.15" stroke="#1a1a1a" stroke-width="1" stroke-linecap="butt"/>
<line x1="146.53" y1="247.95" x2="149.73" y2="247.95" stroke="#1a1a1a" stroke-width="1" stroke-linecap="butt"/>
<line x1="157.26" y1="245.75" x2="157.26" y2="250.15" stroke="#1a1a1a" stroke-width="1" stroke-linecap="butt"/>
<line x1="155.66" y1="247.95" x2="158.86" y2="247.95" stroke="#1a1a1a" stroke-width="1" stroke-linecap="butt"/>
<line x1="161.82" y1="245.75" x2="161.82" y2="250.15" stroke="#1a1a1a" stroke-width="1" stroke-linecap="butt"/>
<line x1="160.22" y1="247.95" x2="163.42" y2="247.95" stroke="#1a1a1a" stroke-width="1" stroke-linecap="butt"/>
<line x1="166.39" y1="245.75" x2="166.39" y2="250.15" stroke="#1a1a1a" stroke-width="1" stroke-linecap="butt"/>
<line x1="164.79" y1="247.95" x2="167.99" y2="247.95" stroke="#1a1a1a" stroke-width="1" stroke-linecap="butt"/>
<line x1="172.32" y1="245.75" x2="172.32" y2="250.15" stroke="#1a1a1a" stroke-width="1" stroke-linecap="butt"/>
<line x1="170.72" y1="247.95" x2="173.92" y2="247.95" stroke="#1a1a1a" stroke-width="1" stroke-linecap="butt"/>
<line x1="175.51" y1="245.75" x2="175.51" y2="250.15" stroke="#1a1a1a" stroke-width="1" stroke-linecap="butt"/>
<line x1="173.91" y1="247.95" x2="177.11" y2="247.95" stroke="#1a1a1a" stroke-width="1" stroke-linecap="butt"/>
<line x1="189.2" y1="245.75" x2="189.2" y2="250.15" stroke="#1a1a1a" stroke-width="1" stroke-linecap="butt"/>
<line x1="187.6" y1="247.95" x2="190.8" y2="247.95" stroke="#1a1a1a" stroke-width="1" stroke-linecap="butt"/>
<line x1="207.45" y1="245.75" x2="207.45" y2="250.15" stroke="#1a1a1a" stroke-width="1" stroke-linecap="butt"/>
<line x1="205.85" y1="247.95" x2="209.05" y2="247.95" stroke="#1a1a1a" stroke-width="1" stroke-linecap="butt"/>
<line x1="225.7" y1="245.75" x2="225.7" y2="250.15" stroke="#1a1a1a" stroke-width="1" stroke-linecap="butt"/>
<line x1="224.1" y1="247.95" x2="227.3" y2="247.95" stroke="#1a1a1a" stroke-width="1" stroke-linecap="butt"/>
<line x1="75.13" y1="259.43" x2="75.13" y2="263.83" stroke="#1a1a1a" stroke-width="1" stroke-linecap="butt"/>
<line x1="73.53" y1="261.63" x2="76.73" y2="261.63" stroke="#1a1a1a" stroke-width="1" stroke-linecap="butt"/>
<line x1="79.69" y1="259.43" x2="79.69" y2="263.83" stroke="#1a1a1a" stroke-width="1" stroke-linecap="butt"/>
<line x1="78.09" y1="261.63" x2="81.29" y2="261.63" stroke="#1a1a1a" stroke-width="1" stroke-linecap="butt"/>
<line x1="83.8" y1="272.66" x2="83.8" y2="277.06" stroke="#1a1a1a" stroke-width="1" stroke-linecap="butt"/>
<line x1="82.2" y1="274.86" x2="85.4" y2="274.86" stroke="#1a1a1a" stroke-width="1" stroke-linecap="butt"/>
<line x1="88.59" y1="288.35" x2="88.59" y2="292.75" stroke="#1a1a1a" stroke-width="1" stroke-linecap="butt"/>
<line x1="86.99" y1="290.55" x2="90.19" y2="290.55" stroke="#1a1a1a" stroke-width="1" stroke-linecap="butt"/>
<line x1="107.07" y1="309.65" x2="107.07" y2="314.05" stroke="#1a1a1a" stroke-width="1" stroke-linecap="butt"/>
<line x1="105.47" y1="311.85" x2="108.67" y2="311.85" stroke="#1a1a1a" stroke-width="1" stroke-linecap="butt"/>
<text x="200.9" y="242.7" font-size="7.4" text-anchor="start" fill="#1c1a1b" textLength="26.4" lengthAdjust="spacingAndGlyphs">p<tspan fill="#808080" stroke="none">&lt;</tspan>0.001</text>
<text x="131.2" y="259.6" font-size="7.4" text-anchor="start" fill="#1c1a1b" textLength="37.5" lengthAdjust="spacingAndGlyphs"><tspan fill="#808080" stroke="none">&lt;</tspan>2.5 µg/mL</text>
<text x="101" y="295.6" font-size="7.4" text-anchor="start" fill="#1c1a1b" textLength="36.4" lengthAdjust="spacingAndGlyphs"><tspan fill="#808080" stroke="none">≥</tspan>2.5 µg/mL</text>
<line x1="121.1" y1="327.7" x2="133.6" y2="327.7" stroke="#a3162f" stroke-width="1.5" stroke-linecap="butt" stroke-dasharray="3.2 1.8"/>
<line x1="121.1" y1="339.7" x2="133.6" y2="339.7" stroke="#3e5a84" stroke-width="1.5" stroke-linecap="butt"/>
<text x="137" y="330.4" font-size="7.2" text-anchor="start" fill="#1c1a1b" textLength="63.5" lengthAdjust="spacingAndGlyphs">Median PFS: 5 years</text>
<text x="137" y="342.4" font-size="7.2" text-anchor="start" fill="#1c1a1b" textLength="81" lengthAdjust="spacingAndGlyphs">Median PFS: Not reached</text>
<text x="14.1" y="388.1" font-size="6.8" text-anchor="start" fill="#1c1a1b" textLength="33.9" lengthAdjust="spacingAndGlyphs">N. of cases</text>
<text x="9.5" y="400.2" font-size="7.4" text-anchor="start" fill="#1c1a1b" textLength="37.5" lengthAdjust="spacingAndGlyphs"><tspan fill="#808080" stroke="none">&lt;</tspan>2.5 µg/mL</text>
<text x="66" y="400.2" font-size="7.4" text-anchor="middle" fill="#1c1a1b" textLength="11.4" lengthAdjust="spacingAndGlyphs">170</text>
<text x="111.63" y="400.2" font-size="7.4" text-anchor="middle" fill="#1c1a1b" textLength="7.6" lengthAdjust="spacingAndGlyphs">53</text>
<text x="157.26" y="400.2" font-size="7.4" text-anchor="middle" fill="#1c1a1b" textLength="7.6" lengthAdjust="spacingAndGlyphs">11</text>
<text x="202.89" y="400.2" font-size="7.4" text-anchor="middle" fill="#1c1a1b" textLength="3.8" lengthAdjust="spacingAndGlyphs">2</text>
<text x="9.5" y="411.6" font-size="7.4" text-anchor="start" fill="#1c1a1b" textLength="37.5" lengthAdjust="spacingAndGlyphs"><tspan fill="#808080" stroke="none">≥</tspan>2.5 µg/mL</text>
<text x="66" y="411.6" font-size="7.4" text-anchor="middle" fill="#1c1a1b" textLength="7.6" lengthAdjust="spacingAndGlyphs">17</text>
<text x="111.63" y="411.6" font-size="7.4" text-anchor="middle" fill="#1c1a1b" textLength="3.8" lengthAdjust="spacingAndGlyphs">1</text>
<text x="157.26" y="411.6" font-size="7.4" text-anchor="middle" fill="#1c1a1b" textLength="3.8" lengthAdjust="spacingAndGlyphs">0</text>
<text x="202.89" y="411.6" font-size="7.4" text-anchor="middle" fill="#1c1a1b" textLength="3.8" lengthAdjust="spacingAndGlyphs">0</text>
<path d="M326.5 241 H485.15" fill="none" stroke="#3e5a84" stroke-width="1.25"/>
<path d="M326.5 241 H335.57 V247.44 H353.7 V277.84 H358.23 V293.32 H376.36" fill="none" stroke="#a3162f" stroke-width="1.25" stroke-dasharray="3.5 2.3"/>
<line x1="335.57" y1="238.8" x2="335.57" y2="243.2" stroke="#1a1a1a" stroke-width="1" stroke-linecap="butt"/>
<line x1="333.97" y1="241" x2="337.17" y2="241" stroke="#1a1a1a" stroke-width="1" stroke-linecap="butt"/>
<line x1="340.1" y1="238.8" x2="340.1" y2="243.2" stroke="#1a1a1a" stroke-width="1" stroke-linecap="butt"/>
<line x1="338.5" y1="241" x2="341.7" y2="241" stroke="#1a1a1a" stroke-width="1" stroke-linecap="butt"/>
<line x1="344.63" y1="238.8" x2="344.63" y2="243.2" stroke="#1a1a1a" stroke-width="1" stroke-linecap="butt"/>
<line x1="343.03" y1="241" x2="346.23" y2="241" stroke="#1a1a1a" stroke-width="1" stroke-linecap="butt"/>
<line x1="349.17" y1="238.8" x2="349.17" y2="243.2" stroke="#1a1a1a" stroke-width="1" stroke-linecap="butt"/>
<line x1="347.56" y1="241" x2="350.77" y2="241" stroke="#1a1a1a" stroke-width="1" stroke-linecap="butt"/>
<line x1="353.7" y1="238.8" x2="353.7" y2="243.2" stroke="#1a1a1a" stroke-width="1" stroke-linecap="butt"/>
<line x1="352.1" y1="241" x2="355.3" y2="241" stroke="#1a1a1a" stroke-width="1" stroke-linecap="butt"/>
<line x1="358.23" y1="238.8" x2="358.23" y2="243.2" stroke="#1a1a1a" stroke-width="1" stroke-linecap="butt"/>
<line x1="356.63" y1="241" x2="359.83" y2="241" stroke="#1a1a1a" stroke-width="1" stroke-linecap="butt"/>
<line x1="362.76" y1="238.8" x2="362.76" y2="243.2" stroke="#1a1a1a" stroke-width="1" stroke-linecap="butt"/>
<line x1="361.16" y1="241" x2="364.36" y2="241" stroke="#1a1a1a" stroke-width="1" stroke-linecap="butt"/>
<line x1="367.3" y1="238.8" x2="367.3" y2="243.2" stroke="#1a1a1a" stroke-width="1" stroke-linecap="butt"/>
<line x1="365.7" y1="241" x2="368.9" y2="241" stroke="#1a1a1a" stroke-width="1" stroke-linecap="butt"/>
<line x1="371.83" y1="238.8" x2="371.83" y2="243.2" stroke="#1a1a1a" stroke-width="1" stroke-linecap="butt"/>
<line x1="370.23" y1="241" x2="373.43" y2="241" stroke="#1a1a1a" stroke-width="1" stroke-linecap="butt"/>
<line x1="376.36" y1="238.8" x2="376.36" y2="243.2" stroke="#1a1a1a" stroke-width="1" stroke-linecap="butt"/>
<line x1="374.76" y1="241" x2="377.96" y2="241" stroke="#1a1a1a" stroke-width="1" stroke-linecap="butt"/>
<line x1="380.9" y1="238.8" x2="380.9" y2="243.2" stroke="#1a1a1a" stroke-width="1" stroke-linecap="butt"/>
<line x1="379.3" y1="241" x2="382.5" y2="241" stroke="#1a1a1a" stroke-width="1" stroke-linecap="butt"/>
<line x1="385.43" y1="238.8" x2="385.43" y2="243.2" stroke="#1a1a1a" stroke-width="1" stroke-linecap="butt"/>
<line x1="383.83" y1="241" x2="387.03" y2="241" stroke="#1a1a1a" stroke-width="1" stroke-linecap="butt"/>
<line x1="389.96" y1="238.8" x2="389.96" y2="243.2" stroke="#1a1a1a" stroke-width="1" stroke-linecap="butt"/>
<line x1="388.36" y1="241" x2="391.56" y2="241" stroke="#1a1a1a" stroke-width="1" stroke-linecap="butt"/>
<line x1="394.5" y1="238.8" x2="394.5" y2="243.2" stroke="#1a1a1a" stroke-width="1" stroke-linecap="butt"/>
<line x1="392.89" y1="241" x2="396.1" y2="241" stroke="#1a1a1a" stroke-width="1" stroke-linecap="butt"/>
<line x1="399.03" y1="238.8" x2="399.03" y2="243.2" stroke="#1a1a1a" stroke-width="1" stroke-linecap="butt"/>
<line x1="397.43" y1="241" x2="400.63" y2="241" stroke="#1a1a1a" stroke-width="1" stroke-linecap="butt"/>
<line x1="403.56" y1="238.8" x2="403.56" y2="243.2" stroke="#1a1a1a" stroke-width="1" stroke-linecap="butt"/>
<line x1="401.96" y1="241" x2="405.16" y2="241" stroke="#1a1a1a" stroke-width="1" stroke-linecap="butt"/>
<line x1="408.09" y1="238.8" x2="408.09" y2="243.2" stroke="#1a1a1a" stroke-width="1" stroke-linecap="butt"/>
<line x1="406.49" y1="241" x2="409.69" y2="241" stroke="#1a1a1a" stroke-width="1" stroke-linecap="butt"/>
<line x1="417.16" y1="238.8" x2="417.16" y2="243.2" stroke="#1a1a1a" stroke-width="1" stroke-linecap="butt"/>
<line x1="415.56" y1="241" x2="418.76" y2="241" stroke="#1a1a1a" stroke-width="1" stroke-linecap="butt"/>
<line x1="421.69" y1="238.8" x2="421.69" y2="243.2" stroke="#1a1a1a" stroke-width="1" stroke-linecap="butt"/>
<line x1="420.09" y1="241" x2="423.29" y2="241" stroke="#1a1a1a" stroke-width="1" stroke-linecap="butt"/>
<line x1="426.23" y1="238.8" x2="426.23" y2="243.2" stroke="#1a1a1a" stroke-width="1" stroke-linecap="butt"/>
<line x1="424.63" y1="241" x2="427.83" y2="241" stroke="#1a1a1a" stroke-width="1" stroke-linecap="butt"/>
<line x1="430.76" y1="238.8" x2="430.76" y2="243.2" stroke="#1a1a1a" stroke-width="1" stroke-linecap="butt"/>
<line x1="429.16" y1="241" x2="432.36" y2="241" stroke="#1a1a1a" stroke-width="1" stroke-linecap="butt"/>
<line x1="435.29" y1="238.8" x2="435.29" y2="243.2" stroke="#1a1a1a" stroke-width="1" stroke-linecap="butt"/>
<line x1="433.69" y1="241" x2="436.89" y2="241" stroke="#1a1a1a" stroke-width="1" stroke-linecap="butt"/>
<line x1="448.89" y1="238.8" x2="448.89" y2="243.2" stroke="#1a1a1a" stroke-width="1" stroke-linecap="butt"/>
<line x1="447.29" y1="241" x2="450.49" y2="241" stroke="#1a1a1a" stroke-width="1" stroke-linecap="butt"/>
<line x1="467.02" y1="238.8" x2="467.02" y2="243.2" stroke="#1a1a1a" stroke-width="1" stroke-linecap="butt"/>
<line x1="465.42" y1="241" x2="468.62" y2="241" stroke="#1a1a1a" stroke-width="1" stroke-linecap="butt"/>
<line x1="485.15" y1="238.8" x2="485.15" y2="243.2" stroke="#1a1a1a" stroke-width="1" stroke-linecap="butt"/>
<line x1="483.55" y1="241" x2="486.75" y2="241" stroke="#1a1a1a" stroke-width="1" stroke-linecap="butt"/>
<line x1="335.57" y1="245.24" x2="335.57" y2="249.64" stroke="#1a1a1a" stroke-width="1" stroke-linecap="butt"/>
<line x1="333.97" y1="247.44" x2="337.17" y2="247.44" stroke="#1a1a1a" stroke-width="1" stroke-linecap="butt"/>
<line x1="340.1" y1="245.24" x2="340.1" y2="249.64" stroke="#1a1a1a" stroke-width="1" stroke-linecap="butt"/>
<line x1="338.5" y1="247.44" x2="341.7" y2="247.44" stroke="#1a1a1a" stroke-width="1" stroke-linecap="butt"/>
<line x1="344.63" y1="245.24" x2="344.63" y2="249.64" stroke="#1a1a1a" stroke-width="1" stroke-linecap="butt"/>
<line x1="343.03" y1="247.44" x2="346.23" y2="247.44" stroke="#1a1a1a" stroke-width="1" stroke-linecap="butt"/>
<line x1="349.17" y1="245.24" x2="349.17" y2="249.64" stroke="#1a1a1a" stroke-width="1" stroke-linecap="butt"/>
<line x1="347.56" y1="247.44" x2="350.77" y2="247.44" stroke="#1a1a1a" stroke-width="1" stroke-linecap="butt"/>
<line x1="367.3" y1="291.12" x2="367.3" y2="295.52" stroke="#1a1a1a" stroke-width="1" stroke-linecap="butt"/>
<line x1="365.7" y1="293.32" x2="368.9" y2="293.32" stroke="#1a1a1a" stroke-width="1" stroke-linecap="butt"/>
<line x1="371.83" y1="291.12" x2="371.83" y2="295.52" stroke="#1a1a1a" stroke-width="1" stroke-linecap="butt"/>
<line x1="370.23" y1="293.32" x2="373.43" y2="293.32" stroke="#1a1a1a" stroke-width="1" stroke-linecap="butt"/>
<line x1="376.36" y1="291.12" x2="376.36" y2="295.52" stroke="#1a1a1a" stroke-width="1" stroke-linecap="butt"/>
<line x1="374.76" y1="293.32" x2="377.96" y2="293.32" stroke="#1a1a1a" stroke-width="1" stroke-linecap="butt"/>
<text x="459.7" y="252.7" font-size="7.4" text-anchor="start" fill="#1c1a1b" textLength="27" lengthAdjust="spacingAndGlyphs">p<tspan fill="#808080" stroke="none">&lt;</tspan>0.001</text>
<text x="373.1" y="253.8" font-size="7.4" text-anchor="start" fill="#1c1a1b" textLength="37.5" lengthAdjust="spacingAndGlyphs"><tspan fill="#808080" stroke="none">&lt;</tspan>2.5 µg/mL</text>
<text x="373.1" y="285.6" font-size="7.4" text-anchor="start" fill="#1c1a1b" textLength="37.5" lengthAdjust="spacingAndGlyphs"><tspan fill="#808080" stroke="none">≥</tspan>2.5 µg/mL</text>
<line x1="381.1" y1="328.2" x2="393.6" y2="328.2" stroke="#a3162f" stroke-width="1.5" stroke-linecap="butt" stroke-dasharray="3.2 1.8"/>
<line x1="381.1" y1="339.7" x2="393.6" y2="339.7" stroke="#3e5a84" stroke-width="1.5" stroke-linecap="butt"/>
<text x="397.3" y="330.9" font-size="7.2" text-anchor="start" fill="#1c1a1b" textLength="78.5" lengthAdjust="spacingAndGlyphs">Median OS: Not reached</text>
<text x="397.3" y="342.4" font-size="7.2" text-anchor="start" fill="#1c1a1b" textLength="78.5" lengthAdjust="spacingAndGlyphs">Median OS: Not reached</text>
<text x="274.3" y="388.1" font-size="6.8" text-anchor="start" fill="#1c1a1b" textLength="34.4" lengthAdjust="spacingAndGlyphs">N. of cases</text>
<text x="270" y="400.2" font-size="7.4" text-anchor="start" fill="#1c1a1b" textLength="37.5" lengthAdjust="spacingAndGlyphs"><tspan fill="#808080" stroke="none">&lt;</tspan>2.5 µg/mL</text>
<text x="326.5" y="400.2" font-size="7.4" text-anchor="middle" fill="#1c1a1b" textLength="11.4" lengthAdjust="spacingAndGlyphs">170</text>
<text x="371.83" y="400.2" font-size="7.4" text-anchor="middle" fill="#1c1a1b" textLength="7.6" lengthAdjust="spacingAndGlyphs">53</text>
<text x="417.16" y="400.2" font-size="7.4" text-anchor="middle" fill="#1c1a1b" textLength="7.6" lengthAdjust="spacingAndGlyphs">11</text>
<text x="462.49" y="400.2" font-size="7.4" text-anchor="middle" fill="#1c1a1b" textLength="3.8" lengthAdjust="spacingAndGlyphs">2</text>
<text x="270" y="411.6" font-size="7.4" text-anchor="start" fill="#1c1a1b" textLength="37.5" lengthAdjust="spacingAndGlyphs"><tspan fill="#808080" stroke="none">≥</tspan>2.5 µg/mL</text>
<text x="326.5" y="411.6" font-size="7.4" text-anchor="middle" fill="#1c1a1b" textLength="7.6" lengthAdjust="spacingAndGlyphs">17</text>
<text x="371.83" y="411.6" font-size="7.4" text-anchor="middle" fill="#1c1a1b" textLength="3.8" lengthAdjust="spacingAndGlyphs">1</text>
<text x="417.16" y="411.6" font-size="7.4" text-anchor="middle" fill="#1c1a1b" textLength="3.8" lengthAdjust="spacingAndGlyphs">0</text>
<text x="462.49" y="411.6" font-size="7.4" text-anchor="middle" fill="#1c1a1b" textLength="3.8" lengthAdjust="spacingAndGlyphs">0</text>
<path d="M66 452.4 H88.08 V453.41 H92.68 V454.75 H112 V456.31 H129.94 V459.11 H135 V462.46 H204.92 V487.73 H213.66 V526.19 H227" fill="none" stroke="#3e5a84" stroke-width="1.25"/>
<path d="M66 452.4 H75.2 V494.32 H84.4 V508.3 H89 V522.27 H93.6 V536.25 H107.4" fill="none" stroke="#a3162f" stroke-width="1.25" stroke-dasharray="3.5 2.3"/>
<line x1="75.2" y1="450.2" x2="75.2" y2="454.6" stroke="#1a1a1a" stroke-width="1" stroke-linecap="butt"/>
<line x1="73.6" y1="452.4" x2="76.8" y2="452.4" stroke="#1a1a1a" stroke-width="1" stroke-linecap="butt"/>
<line x1="79.8" y1="450.2" x2="79.8" y2="454.6" stroke="#1a1a1a" stroke-width="1" stroke-linecap="butt"/>
<line x1="78.2" y1="452.4" x2="81.4" y2="452.4" stroke="#1a1a1a" stroke-width="1" stroke-linecap="butt"/>
<line x1="84.4" y1="450.2" x2="84.4" y2="454.6" stroke="#1a1a1a" stroke-width="1" stroke-linecap="butt"/>
<line x1="82.8" y1="452.4" x2="86" y2="452.4" stroke="#1a1a1a" stroke-width="1" stroke-linecap="butt"/>
<line x1="89" y1="451.21" x2="89" y2="455.61" stroke="#1a1a1a" stroke-width="1" stroke-linecap="butt"/>
<line x1="87.4" y1="453.41" x2="90.6" y2="453.41" stroke="#1a1a1a" stroke-width="1" stroke-linecap="butt"/>
<line x1="93.6" y1="452.55" x2="93.6" y2="456.95" stroke="#1a1a1a" stroke-width="1" stroke-linecap="butt"/>
<line x1="92" y1="454.75" x2="95.2" y2="454.75" stroke="#1a1a1a" stroke-width="1" stroke-linecap="butt"/>
<line x1="98.2" y1="452.55" x2="98.2" y2="456.95" stroke="#1a1a1a" stroke-width="1" stroke-linecap="butt"/>
<line x1="96.6" y1="454.75" x2="99.8" y2="454.75" stroke="#1a1a1a" stroke-width="1" stroke-linecap="butt"/>
<line x1="102.8" y1="452.55" x2="102.8" y2="456.95" stroke="#1a1a1a" stroke-width="1" stroke-linecap="butt"/>
<line x1="101.2" y1="454.75" x2="104.4" y2="454.75" stroke="#1a1a1a" stroke-width="1" stroke-linecap="butt"/>
<line x1="107.4" y1="452.55" x2="107.4" y2="456.95" stroke="#1a1a1a" stroke-width="1" stroke-linecap="butt"/>
<line x1="105.8" y1="454.75" x2="109" y2="454.75" stroke="#1a1a1a" stroke-width="1" stroke-linecap="butt"/>
<line x1="112" y1="454.11" x2="112" y2="458.51" stroke="#1a1a1a" stroke-width="1" stroke-linecap="butt"/>
<line x1="110.4" y1="456.31" x2="113.6" y2="456.31" stroke="#1a1a1a" stroke-width="1" stroke-linecap="butt"/>
<line x1="116.6" y1="454.11" x2="116.6" y2="458.51" stroke="#1a1a1a" stroke-width="1" stroke-linecap="butt"/>
<line x1="115" y1="456.31" x2="118.2" y2="456.31" stroke="#1a1a1a" stroke-width="1" stroke-linecap="butt"/>
<line x1="121.2" y1="454.11" x2="121.2" y2="458.51" stroke="#1a1a1a" stroke-width="1" stroke-linecap="butt"/>
<line x1="119.6" y1="456.31" x2="122.8" y2="456.31" stroke="#1a1a1a" stroke-width="1" stroke-linecap="butt"/>
<line x1="125.8" y1="454.11" x2="125.8" y2="458.51" stroke="#1a1a1a" stroke-width="1" stroke-linecap="butt"/>
<line x1="124.2" y1="456.31" x2="127.4" y2="456.31" stroke="#1a1a1a" stroke-width="1" stroke-linecap="butt"/>
<line x1="130.4" y1="456.91" x2="130.4" y2="461.31" stroke="#1a1a1a" stroke-width="1" stroke-linecap="butt"/>
<line x1="128.8" y1="459.11" x2="132" y2="459.11" stroke="#1a1a1a" stroke-width="1" stroke-linecap="butt"/>
<line x1="135" y1="460.26" x2="135" y2="464.66" stroke="#1a1a1a" stroke-width="1" stroke-linecap="butt"/>
<line x1="133.4" y1="462.46" x2="136.6" y2="462.46" stroke="#1a1a1a" stroke-width="1" stroke-linecap="butt"/>
<line x1="139.6" y1="460.26" x2="139.6" y2="464.66" stroke="#1a1a1a" stroke-width="1" stroke-linecap="butt"/>
<line x1="138" y1="462.46" x2="141.2" y2="462.46" stroke="#1a1a1a" stroke-width="1" stroke-linecap="butt"/>
<line x1="144.2" y1="460.26" x2="144.2" y2="464.66" stroke="#1a1a1a" stroke-width="1" stroke-linecap="butt"/>
<line x1="142.6" y1="462.46" x2="145.8" y2="462.46" stroke="#1a1a1a" stroke-width="1" stroke-linecap="butt"/>
<line x1="148.8" y1="460.26" x2="148.8" y2="464.66" stroke="#1a1a1a" stroke-width="1" stroke-linecap="butt"/>
<line x1="147.2" y1="462.46" x2="150.4" y2="462.46" stroke="#1a1a1a" stroke-width="1" stroke-linecap="butt"/>
<line x1="153.4" y1="460.26" x2="153.4" y2="464.66" stroke="#1a1a1a" stroke-width="1" stroke-linecap="butt"/>
<line x1="151.8" y1="462.46" x2="155" y2="462.46" stroke="#1a1a1a" stroke-width="1" stroke-linecap="butt"/>
<line x1="158" y1="460.26" x2="158" y2="464.66" stroke="#1a1a1a" stroke-width="1" stroke-linecap="butt"/>
<line x1="156.4" y1="462.46" x2="159.6" y2="462.46" stroke="#1a1a1a" stroke-width="1" stroke-linecap="butt"/>
<line x1="162.6" y1="460.26" x2="162.6" y2="464.66" stroke="#1a1a1a" stroke-width="1" stroke-linecap="butt"/>
<line x1="161" y1="462.46" x2="164.2" y2="462.46" stroke="#1a1a1a" stroke-width="1" stroke-linecap="butt"/>
<line x1="167.2" y1="460.26" x2="167.2" y2="464.66" stroke="#1a1a1a" stroke-width="1" stroke-linecap="butt"/>
<line x1="165.6" y1="462.46" x2="168.8" y2="462.46" stroke="#1a1a1a" stroke-width="1" stroke-linecap="butt"/>
<line x1="171.8" y1="460.26" x2="171.8" y2="464.66" stroke="#1a1a1a" stroke-width="1" stroke-linecap="butt"/>
<line x1="170.2" y1="462.46" x2="173.4" y2="462.46" stroke="#1a1a1a" stroke-width="1" stroke-linecap="butt"/>
<line x1="176.4" y1="460.26" x2="176.4" y2="464.66" stroke="#1a1a1a" stroke-width="1" stroke-linecap="butt"/>
<line x1="174.8" y1="462.46" x2="178" y2="462.46" stroke="#1a1a1a" stroke-width="1" stroke-linecap="butt"/>
<line x1="190.2" y1="460.26" x2="190.2" y2="464.66" stroke="#1a1a1a" stroke-width="1" stroke-linecap="butt"/>
<line x1="188.6" y1="462.46" x2="191.8" y2="462.46" stroke="#1a1a1a" stroke-width="1" stroke-linecap="butt"/>
<line x1="208.6" y1="485.53" x2="208.6" y2="489.93" stroke="#1a1a1a" stroke-width="1" stroke-linecap="butt"/>
<line x1="207" y1="487.73" x2="210.2" y2="487.73" stroke="#1a1a1a" stroke-width="1" stroke-linecap="butt"/>
<line x1="227" y1="523.99" x2="227" y2="528.39" stroke="#1a1a1a" stroke-width="1" stroke-linecap="butt"/>
<line x1="225.4" y1="526.19" x2="228.6" y2="526.19" stroke="#1a1a1a" stroke-width="1" stroke-linecap="butt"/>
<line x1="107.4" y1="534.05" x2="107.4" y2="538.45" stroke="#1a1a1a" stroke-width="1" stroke-linecap="butt"/>
<line x1="105.8" y1="536.25" x2="109" y2="536.25" stroke="#1a1a1a" stroke-width="1" stroke-linecap="butt"/>
<text x="197" y="455.1" font-size="7.4" text-anchor="start" fill="#1c1a1b" textLength="26.2" lengthAdjust="spacingAndGlyphs">P<tspan fill="#808080" stroke="none">&lt;</tspan>0.001</text>
<text x="150.9" y="473.1" font-size="7.4" text-anchor="start" fill="#1c1a1b" textLength="39.2" lengthAdjust="spacingAndGlyphs">0 mutations</text>
<text x="103" y="514.7" font-size="7.4" text-anchor="start" fill="#1c1a1b" textLength="40" lengthAdjust="spacingAndGlyphs"><tspan fill="#808080" stroke="none">≥</tspan>1 mutation</text>
<line x1="121.3" y1="538.3" x2="133.8" y2="538.3" stroke="#a3162f" stroke-width="1.5" stroke-linecap="butt" stroke-dasharray="3.2 1.8"/>
<line x1="121.3" y1="550" x2="133.8" y2="550" stroke="#3e5a84" stroke-width="1.5" stroke-linecap="butt"/>
<text x="137.5" y="541" font-size="7.2" text-anchor="start" fill="#1c1a1b" textLength="63.8" lengthAdjust="spacingAndGlyphs">Median PFS: 4 years</text>
<text x="137.5" y="552.7" font-size="7.2" text-anchor="start" fill="#1c1a1b" textLength="67.5" lengthAdjust="spacingAndGlyphs">Median PFS: 32 years</text>
<text x="14.1" y="598.2" font-size="6.8" text-anchor="start" fill="#1c1a1b" textLength="33.9" lengthAdjust="spacingAndGlyphs">N. of cases</text>
<text x="9.5" y="610.1" font-size="7.4" text-anchor="start" fill="#1c1a1b" textLength="38.5" lengthAdjust="spacingAndGlyphs">0 Mutations</text>
<text x="66" y="610.1" font-size="7.4" text-anchor="middle" fill="#1c1a1b" textLength="11.4" lengthAdjust="spacingAndGlyphs">192</text>
<text x="112" y="610.1" font-size="7.4" text-anchor="middle" fill="#1c1a1b" textLength="7.6" lengthAdjust="spacingAndGlyphs">59</text>
<text x="158" y="610.1" font-size="7.4" text-anchor="middle" fill="#1c1a1b" textLength="7.6" lengthAdjust="spacingAndGlyphs">13</text>
<text x="204" y="610.1" font-size="7.4" text-anchor="middle" fill="#1c1a1b" textLength="3.8" lengthAdjust="spacingAndGlyphs">3</text>
<text x="9.5" y="621.5" font-size="7.4" text-anchor="start" fill="#1c1a1b" textLength="38.5" lengthAdjust="spacingAndGlyphs"><tspan fill="#808080" stroke="none">≥</tspan>1 Mutation</text>
<text x="66" y="621.5" font-size="7.4" text-anchor="middle" fill="#1c1a1b" textLength="3.8" lengthAdjust="spacingAndGlyphs">8</text>
<text x="112" y="621.5" font-size="7.4" text-anchor="middle" fill="#1c1a1b" textLength="3.8" lengthAdjust="spacingAndGlyphs">0</text>
<text x="158" y="621.5" font-size="7.4" text-anchor="middle" fill="#1c1a1b" textLength="3.8" lengthAdjust="spacingAndGlyphs">0</text>
<text x="204" y="621.5" font-size="7.4" text-anchor="middle" fill="#1c1a1b" textLength="3.8" lengthAdjust="spacingAndGlyphs">0</text>
<path d="M326.5 451.85 H487.4" fill="none" stroke="#3e5a84" stroke-width="1.25"/>
<path d="M326.5 451.85 H336.26 V465.89 H354.58 V493.98 H359.16 V508.03 H372.9" fill="none" stroke="#a3162f" stroke-width="1.25" stroke-dasharray="3.5 2.3"/>
<line x1="336.26" y1="449.65" x2="336.26" y2="454.05" stroke="#1a1a1a" stroke-width="1" stroke-linecap="butt"/>
<line x1="334.66" y1="451.85" x2="337.86" y2="451.85" stroke="#1a1a1a" stroke-width="1" stroke-linecap="butt"/>
<line x1="340.84" y1="449.65" x2="340.84" y2="454.05" stroke="#1a1a1a" stroke-width="1" stroke-linecap="butt"/>
<line x1="339.24" y1="451.85" x2="342.44" y2="451.85" stroke="#1a1a1a" stroke-width="1" stroke-linecap="butt"/>
<line x1="345.42" y1="449.65" x2="345.42" y2="454.05" stroke="#1a1a1a" stroke-width="1" stroke-linecap="butt"/>
<line x1="343.82" y1="451.85" x2="347.02" y2="451.85" stroke="#1a1a1a" stroke-width="1" stroke-linecap="butt"/>
<line x1="350" y1="449.65" x2="350" y2="454.05" stroke="#1a1a1a" stroke-width="1" stroke-linecap="butt"/>
<line x1="348.4" y1="451.85" x2="351.6" y2="451.85" stroke="#1a1a1a" stroke-width="1" stroke-linecap="butt"/>
<line x1="354.58" y1="449.65" x2="354.58" y2="454.05" stroke="#1a1a1a" stroke-width="1" stroke-linecap="butt"/>
<line x1="352.98" y1="451.85" x2="356.18" y2="451.85" stroke="#1a1a1a" stroke-width="1" stroke-linecap="butt"/>
<line x1="359.16" y1="449.65" x2="359.16" y2="454.05" stroke="#1a1a1a" stroke-width="1" stroke-linecap="butt"/>
<line x1="357.56" y1="451.85" x2="360.76" y2="451.85" stroke="#1a1a1a" stroke-width="1" stroke-linecap="butt"/>
<line x1="363.74" y1="449.65" x2="363.74" y2="454.05" stroke="#1a1a1a" stroke-width="1" stroke-linecap="butt"/>
<line x1="362.14" y1="451.85" x2="365.34" y2="451.85" stroke="#1a1a1a" stroke-width="1" stroke-linecap="butt"/>
<line x1="368.32" y1="449.65" x2="368.32" y2="454.05" stroke="#1a1a1a" stroke-width="1" stroke-linecap="butt"/>
<line x1="366.72" y1="451.85" x2="369.92" y2="451.85" stroke="#1a1a1a" stroke-width="1" stroke-linecap="butt"/>
<line x1="372.9" y1="449.65" x2="372.9" y2="454.05" stroke="#1a1a1a" stroke-width="1" stroke-linecap="butt"/>
<line x1="371.3" y1="451.85" x2="374.5" y2="451.85" stroke="#1a1a1a" stroke-width="1" stroke-linecap="butt"/>
<line x1="377.48" y1="449.65" x2="377.48" y2="454.05" stroke="#1a1a1a" stroke-width="1" stroke-linecap="butt"/>
<line x1="375.88" y1="451.85" x2="379.08" y2="451.85" stroke="#1a1a1a" stroke-width="1" stroke-linecap="butt"/>
<line x1="382.06" y1="449.65" x2="382.06" y2="454.05" stroke="#1a1a1a" stroke-width="1" stroke-linecap="butt"/>
<line x1="380.46" y1="451.85" x2="383.66" y2="451.85" stroke="#1a1a1a" stroke-width="1" stroke-linecap="butt"/>
<line x1="386.64" y1="449.65" x2="386.64" y2="454.05" stroke="#1a1a1a" stroke-width="1" stroke-linecap="butt"/>
<line x1="385.04" y1="451.85" x2="388.24" y2="451.85" stroke="#1a1a1a" stroke-width="1" stroke-linecap="butt"/>
<line x1="391.22" y1="449.65" x2="391.22" y2="454.05" stroke="#1a1a1a" stroke-width="1" stroke-linecap="butt"/>
<line x1="389.62" y1="451.85" x2="392.82" y2="451.85" stroke="#1a1a1a" stroke-width="1" stroke-linecap="butt"/>
<line x1="395.8" y1="449.65" x2="395.8" y2="454.05" stroke="#1a1a1a" stroke-width="1" stroke-linecap="butt"/>
<line x1="394.2" y1="451.85" x2="397.4" y2="451.85" stroke="#1a1a1a" stroke-width="1" stroke-linecap="butt"/>
<line x1="400.38" y1="449.65" x2="400.38" y2="454.05" stroke="#1a1a1a" stroke-width="1" stroke-linecap="butt"/>
<line x1="398.78" y1="451.85" x2="401.98" y2="451.85" stroke="#1a1a1a" stroke-width="1" stroke-linecap="butt"/>
<line x1="404.96" y1="449.65" x2="404.96" y2="454.05" stroke="#1a1a1a" stroke-width="1" stroke-linecap="butt"/>
<line x1="403.36" y1="451.85" x2="406.56" y2="451.85" stroke="#1a1a1a" stroke-width="1" stroke-linecap="butt"/>
<line x1="409.54" y1="449.65" x2="409.54" y2="454.05" stroke="#1a1a1a" stroke-width="1" stroke-linecap="butt"/>
<line x1="407.94" y1="451.85" x2="411.14" y2="451.85" stroke="#1a1a1a" stroke-width="1" stroke-linecap="butt"/>
<line x1="414.12" y1="449.65" x2="414.12" y2="454.05" stroke="#1a1a1a" stroke-width="1" stroke-linecap="butt"/>
<line x1="412.52" y1="451.85" x2="415.72" y2="451.85" stroke="#1a1a1a" stroke-width="1" stroke-linecap="butt"/>
<line x1="418.7" y1="449.65" x2="418.7" y2="454.05" stroke="#1a1a1a" stroke-width="1" stroke-linecap="butt"/>
<line x1="417.1" y1="451.85" x2="420.3" y2="451.85" stroke="#1a1a1a" stroke-width="1" stroke-linecap="butt"/>
<line x1="423.28" y1="449.65" x2="423.28" y2="454.05" stroke="#1a1a1a" stroke-width="1" stroke-linecap="butt"/>
<line x1="421.68" y1="451.85" x2="424.88" y2="451.85" stroke="#1a1a1a" stroke-width="1" stroke-linecap="butt"/>
<line x1="427.86" y1="449.65" x2="427.86" y2="454.05" stroke="#1a1a1a" stroke-width="1" stroke-linecap="butt"/>
<line x1="426.26" y1="451.85" x2="429.46" y2="451.85" stroke="#1a1a1a" stroke-width="1" stroke-linecap="butt"/>
<line x1="432.44" y1="449.65" x2="432.44" y2="454.05" stroke="#1a1a1a" stroke-width="1" stroke-linecap="butt"/>
<line x1="430.84" y1="451.85" x2="434.04" y2="451.85" stroke="#1a1a1a" stroke-width="1" stroke-linecap="butt"/>
<line x1="437.02" y1="449.65" x2="437.02" y2="454.05" stroke="#1a1a1a" stroke-width="1" stroke-linecap="butt"/>
<line x1="435.42" y1="451.85" x2="438.62" y2="451.85" stroke="#1a1a1a" stroke-width="1" stroke-linecap="butt"/>
<line x1="450.76" y1="449.65" x2="450.76" y2="454.05" stroke="#1a1a1a" stroke-width="1" stroke-linecap="butt"/>
<line x1="449.16" y1="451.85" x2="452.36" y2="451.85" stroke="#1a1a1a" stroke-width="1" stroke-linecap="butt"/>
<line x1="469.08" y1="449.65" x2="469.08" y2="454.05" stroke="#1a1a1a" stroke-width="1" stroke-linecap="butt"/>
<line x1="467.48" y1="451.85" x2="470.68" y2="451.85" stroke="#1a1a1a" stroke-width="1" stroke-linecap="butt"/>
<line x1="487.4" y1="449.65" x2="487.4" y2="454.05" stroke="#1a1a1a" stroke-width="1" stroke-linecap="butt"/>
<line x1="485.8" y1="451.85" x2="489" y2="451.85" stroke="#1a1a1a" stroke-width="1" stroke-linecap="butt"/>
<line x1="368.32" y1="505.83" x2="368.32" y2="510.23" stroke="#1a1a1a" stroke-width="1" stroke-linecap="butt"/>
<line x1="366.72" y1="508.03" x2="369.92" y2="508.03" stroke="#1a1a1a" stroke-width="1" stroke-linecap="butt"/>
<line x1="372.9" y1="505.83" x2="372.9" y2="510.23" stroke="#1a1a1a" stroke-width="1" stroke-linecap="butt"/>
<line x1="371.3" y1="508.03" x2="374.5" y2="508.03" stroke="#1a1a1a" stroke-width="1" stroke-linecap="butt"/>
<text x="456.4" y="465.1" font-size="7.4" text-anchor="start" fill="#1c1a1b" textLength="25.4" lengthAdjust="spacingAndGlyphs">P<tspan fill="#808080" stroke="none">&lt;</tspan>0.001</text>
<text x="384.7" y="462" font-size="7.4" text-anchor="start" fill="#1c1a1b" textLength="38.4" lengthAdjust="spacingAndGlyphs">0 mutations</text>
<text x="376.9" y="504.2" font-size="7.4" text-anchor="start" fill="#1c1a1b" textLength="40.4" lengthAdjust="spacingAndGlyphs"><tspan fill="#808080" stroke="none">≥</tspan>1 mutation</text>
<line x1="382" y1="538" x2="394.7" y2="538" stroke="#a3162f" stroke-width="1.5" stroke-linecap="butt" stroke-dasharray="3.2 1.8"/>
<line x1="382" y1="550" x2="394.7" y2="550" stroke="#3e5a84" stroke-width="1.5" stroke-linecap="butt"/>
<text x="397.7" y="540.7" font-size="7.2" text-anchor="start" fill="#1c1a1b" textLength="61.2" lengthAdjust="spacingAndGlyphs">Median OS: 7 years</text>
<text x="397.7" y="552.7" font-size="7.2" text-anchor="start" fill="#1c1a1b" textLength="78.5" lengthAdjust="spacingAndGlyphs">Median OS: Not reached</text>
<text x="274.3" y="598.2" font-size="6.8" text-anchor="start" fill="#1c1a1b" textLength="34.4" lengthAdjust="spacingAndGlyphs">N. of cases</text>
<text x="270" y="610.1" font-size="7.4" text-anchor="start" fill="#1c1a1b" textLength="38.5" lengthAdjust="spacingAndGlyphs">0 Mutations</text>
<text x="327.1" y="610.1" font-size="7.4" text-anchor="middle" fill="#1c1a1b" textLength="11.4" lengthAdjust="spacingAndGlyphs">192</text>
<text x="372.9" y="610.1" font-size="7.4" text-anchor="middle" fill="#1c1a1b" textLength="7.6" lengthAdjust="spacingAndGlyphs">61</text>
<text x="418.7" y="610.1" font-size="7.4" text-anchor="middle" fill="#1c1a1b" textLength="7.6" lengthAdjust="spacingAndGlyphs">14</text>
<text x="464.5" y="610.1" font-size="7.4" text-anchor="middle" fill="#1c1a1b" textLength="3.8" lengthAdjust="spacingAndGlyphs">5</text>
<text x="270" y="621.5" font-size="7.4" text-anchor="start" fill="#1c1a1b" textLength="38.5" lengthAdjust="spacingAndGlyphs"><tspan fill="#808080" stroke="none">≥</tspan>1 Mutation</text>
<text x="327.1" y="621.5" font-size="7.4" text-anchor="middle" fill="#1c1a1b" textLength="3.8" lengthAdjust="spacingAndGlyphs">8</text>
<text x="372.9" y="621.5" font-size="7.4" text-anchor="middle" fill="#1c1a1b" textLength="3.8" lengthAdjust="spacingAndGlyphs">0</text>
<text x="418.7" y="621.5" font-size="7.4" text-anchor="middle" fill="#1c1a1b" textLength="3.8" lengthAdjust="spacingAndGlyphs">0</text>
<text x="464.5" y="621.5" font-size="7.4" text-anchor="middle" fill="#1c1a1b" textLength="3.8" lengthAdjust="spacingAndGlyphs">0</text>
<rect x="0" y="0" width="1.6" height="631" fill="#4a4a4a"/>
<rect x="0" y="0" width="520" height="1.4" fill="#4a4a4a"/>
<rect x="518.4" y="0" width="1.6" height="631" fill="#4a4a4a"/>
<rect x="519" y="0" width="1" height="631" fill="#2a2a2a"/>
<rect x="0" y="629.9" width="520" height="1.1" fill="#1e1e1e"/>
</svg>
</body></html>
